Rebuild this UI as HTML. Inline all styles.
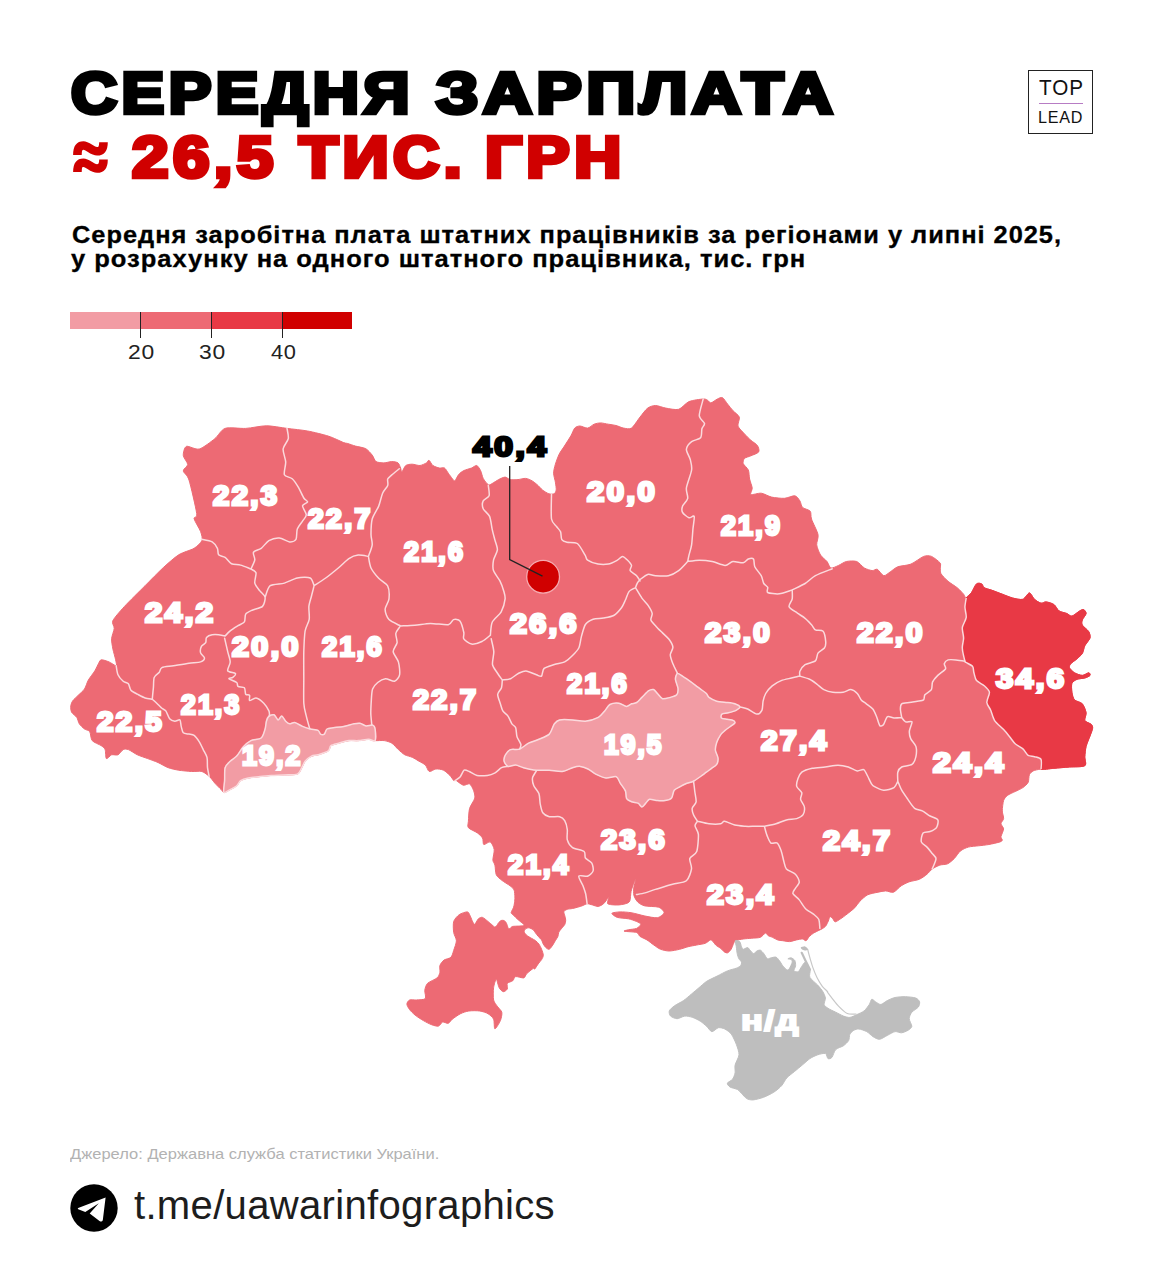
<!DOCTYPE html>
<html lang="uk"><head><meta charset="utf-8"><title>Середня зарплата</title>
<style>
*{margin:0;padding:0;box-sizing:border-box}
html,body{width:1163px;height:1280px;background:#fff;overflow:hidden}
body{position:relative;font-family:"Liberation Sans",sans-serif;color:#000}
.abs{position:absolute;white-space:nowrap}
.logo{left:1028px;top:70px;width:65px;height:64px;border:1.6px solid #222}
.logo i{position:absolute;left:9.5px;right:9.5px;top:31.5px;height:1.7px;background:#B77CC4}
.leg{top:312px;height:16.5px}
.tick{top:312px;width:1.3px;height:25.6px;background:#222}
.map{position:absolute;left:0;top:0}
</style></head><body>
<div class="abs logo"><i></i></div>
<div class="abs leg" style="left:70px;width:71px;background:#F29CA4"></div>
<div class="abs leg" style="left:141px;width:71px;background:#ED6A74"></div>
<div class="abs leg" style="left:212px;width:71px;background:#E83945"></div>
<div class="abs leg" style="left:283px;width:69.2px;background:#D00000"></div>
<div class="abs tick" style="left:140.2px"></div><div class="abs tick" style="left:211.1px"></div><div class="abs tick" style="left:282.1px"></div>
<svg class="map" width="1163" height="1280" viewBox="0 0 1163 1280">
<path d="M287.0,428.4 C292.5,429.1 302.1,430.0 307.6,431.0 C313.1,432.0 323.5,434.6 328.3,436.1 C333.1,437.6 341.1,441.6 343.7,442.6 C346.3,443.6 346.1,443.0 347.7,443.5 C349.3,444.0 353.1,445.4 355.5,446.1 C357.9,446.8 363.6,447.5 365.8,448.7 C368.0,449.9 370.8,453.4 372.2,455.1 C373.6,456.8 374.5,460.6 376.1,461.6 C377.7,462.6 381.8,462.9 383.9,462.9 C386.0,462.9 389.7,461.6 391.6,461.6 C393.5,461.6 396.8,462.0 398.0,462.9 C399.2,463.8 400.1,466.8 400.6,468.0 C401.1,469.2 401.2,472.2 401.9,471.9 C402.6,471.6 404.4,466.5 405.8,465.5 C407.2,464.5 410.3,464.2 412.2,464.2 C414.1,464.2 418.1,465.7 420.0,465.5 C421.9,465.3 425.2,463.6 426.4,462.9 C427.6,462.2 428.1,460.0 429.0,460.3 C429.9,460.6 431.5,464.5 432.9,465.5 C434.3,466.5 437.8,467.7 439.3,468.0 C440.8,468.3 443.3,467.3 444.5,468.0 C445.7,468.7 447.3,471.8 448.3,473.2 C449.3,474.6 451.3,477.4 452.2,478.4 C453.1,479.4 453.9,481.4 454.8,480.9 C455.7,480.4 457.5,475.9 458.7,474.5 C459.9,473.1 462.1,471.5 463.8,470.6 C465.5,469.7 469.9,468.7 471.6,468.0 C473.3,467.3 475.5,465.2 476.7,465.5 C477.9,465.8 479.7,468.9 480.6,470.6 C481.5,472.3 482.2,476.5 483.2,478.4 C484.2,480.3 487.1,484.1 488.3,484.8 C489.5,485.5 490.8,484.2 492.2,483.5 C493.6,482.8 496.9,480.5 498.6,479.6 C500.3,478.7 503.6,477.1 505.1,477.1 C506.6,477.1 508.5,479.3 510.2,479.6 C511.9,479.9 515.9,479.8 518.0,479.6 C520.1,479.4 523.8,478.2 525.7,478.4 C527.6,478.6 530.7,480.0 532.2,480.9 C533.7,481.8 535.9,483.6 537.3,484.8 C538.7,486.0 541.0,488.8 542.5,490.0 C544.0,491.2 547.4,493.3 548.9,493.8 C550.4,494.3 553.1,494.3 554.1,493.8 C555.1,493.3 556.0,491.5 556.2,490.0 C556.4,488.5 555.7,484.4 555.4,482.2 C555.1,480.0 553.6,475.6 553.6,473.2 C553.6,470.8 554.6,466.8 555.4,464.2 C556.2,461.6 558.1,456.3 559.3,453.9 C560.5,451.5 562.9,448.5 564.4,446.1 C565.9,443.7 569.5,438.2 570.9,435.8 C572.3,433.4 573.5,429.4 574.7,428.1 C575.9,426.8 578.2,426.0 579.9,426.0 C581.6,426.0 585.7,428.3 587.6,428.1 C589.5,427.9 592.4,424.9 594.1,424.2 C595.8,423.5 598.6,422.9 600.5,422.9 C602.4,422.9 606.2,423.9 608.3,424.2 C610.4,424.5 613.9,425.0 616.0,425.5 C618.1,426.0 621.6,427.8 623.7,428.1 C625.8,428.4 629.3,429.6 631.5,428.1 C633.7,426.6 637.8,419.8 640.0,417.1 C642.2,414.4 645.6,409.6 647.7,408.1 C649.8,406.6 653.1,405.5 655.5,405.5 C657.9,405.5 662.7,407.6 665.8,408.1 C668.9,408.6 675.6,410.2 678.7,409.3 C681.8,408.4 685.7,403.0 689.0,401.6 C692.3,400.2 700.7,399.2 703.2,399.0 C705.7,398.8 706.6,399.8 707.6,400.3 C708.6,400.8 709.6,403.1 710.9,402.9 C712.2,402.7 715.9,399.7 717.4,399.0 C718.9,398.3 721.1,397.0 722.5,397.7 C723.9,398.4 726.3,402.5 727.7,404.2 C729.1,405.9 731.4,408.9 732.9,410.6 C734.4,412.3 738.6,415.0 739.3,417.1 C740.0,419.2 737.3,423.9 738.0,426.1 C738.7,428.3 742.8,432.0 744.5,433.9 C746.2,435.8 749.2,438.8 750.9,440.3 C752.6,441.8 756.4,444.0 757.4,445.5 C758.4,447.0 759.6,450.5 758.7,451.9 C757.8,453.3 752.8,454.9 750.9,455.8 C749.0,456.7 745.5,457.4 744.5,458.4 C743.5,459.4 742.7,462.0 743.2,463.5 C743.7,465.0 747.4,467.9 748.3,470.0 C749.2,472.1 749.1,476.6 749.6,479.0 C750.1,481.4 752.0,485.9 752.2,488.0 C752.4,490.1 749.7,493.8 750.9,494.5 C752.1,495.2 758.4,492.9 761.2,493.2 C764.0,493.5 768.5,496.4 771.6,497.1 C774.7,497.8 781.4,498.5 784.5,498.3 C787.6,498.1 792.7,495.5 794.8,495.8 C796.9,496.1 798.9,499.4 799.9,500.9 C800.9,502.4 801.1,506.0 802.5,507.4 C803.9,508.8 809.0,509.7 810.2,511.2 C811.4,512.7 810.5,515.9 811.5,519.0 C812.5,522.1 817.3,531.1 818.0,534.5 C818.7,537.9 816.4,542.1 816.7,544.8 C817.0,547.5 819.2,552.9 820.6,555.1 C822.0,557.3 825.6,559.8 827.0,561.5 C828.4,563.2 829.4,567.5 830.9,568.0 C832.4,568.5 836.5,566.3 838.6,565.4 C840.7,564.5 844.0,562.0 846.4,561.5 C848.8,561.0 854.3,560.6 856.7,561.5 C859.1,562.4 862.3,566.8 864.4,568.0 C866.5,569.2 870.5,570.4 872.2,570.6 C873.9,570.8 875.8,568.6 877.3,569.3 C878.8,570.0 882.1,575.4 883.8,575.7 C885.5,576.0 888.3,573.1 890.2,571.9 C892.1,570.7 895.2,567.7 898.0,566.7 C900.8,565.7 907.5,565.5 910.9,564.1 C914.3,562.7 921.0,557.4 923.7,556.4 C926.4,555.4 929.3,555.5 931.5,556.4 C933.7,557.3 938.8,561.4 940.0,562.8 C941.2,564.2 940.3,565.7 940.4,567.1 C940.5,568.5 939.9,571.6 940.9,573.5 C941.9,575.4 945.9,579.4 948.1,581.3 C950.3,583.2 955.1,586.0 957.2,587.7 C959.3,589.4 962.4,592.8 963.6,594.2 C964.8,595.6 965.2,598.2 966.2,598.0 C967.2,597.8 969.9,594.8 971.3,592.9 C972.7,591.0 975.1,585.1 976.5,583.9 C977.9,582.7 980.7,583.4 981.7,583.9 C982.7,584.4 982.8,586.8 984.2,587.7 C985.6,588.6 989.6,589.4 992.0,590.3 C994.4,591.2 999.6,593.2 1002.3,594.2 C1005.0,595.2 1009.9,597.3 1012.6,598.0 C1015.3,598.7 1020.7,600.0 1022.9,599.3 C1025.1,598.6 1027.9,592.9 1029.4,592.9 C1030.9,592.9 1033.0,597.9 1034.5,599.3 C1036.0,600.7 1039.5,602.9 1041.0,603.2 C1042.5,603.5 1044.4,601.7 1046.1,601.9 C1047.8,602.1 1052.2,603.3 1053.9,604.5 C1055.6,605.7 1057.3,609.7 1059.0,610.9 C1060.7,612.1 1065.1,612.8 1066.8,613.5 C1068.5,614.2 1070.2,616.4 1071.9,616.1 C1073.6,615.8 1078.1,611.8 1079.7,610.9 C1081.3,610.0 1082.7,609.3 1083.6,609.6 C1084.5,609.9 1086.3,612.1 1086.1,613.5 C1085.9,614.9 1082.8,618.5 1082.3,620.0 C1081.8,621.5 1081.4,623.6 1082.3,625.1 C1083.2,626.6 1087.7,629.9 1088.7,631.6 C1089.7,633.3 1090.5,636.1 1090.0,638.0 C1089.5,639.9 1085.8,643.7 1084.8,645.8 C1083.8,647.9 1083.3,651.8 1082.3,653.5 C1081.3,655.2 1078.6,657.3 1077.1,658.7 C1075.6,660.1 1071.7,662.6 1070.7,663.8 C1069.7,665.0 1068.9,666.5 1069.4,667.7 C1069.9,668.9 1072.8,671.8 1074.5,672.8 C1076.2,673.8 1080.4,675.4 1082.3,675.4 C1084.2,675.4 1087.7,672.8 1088.7,672.8 C1089.7,672.8 1090.5,674.7 1090.0,675.4 C1089.5,676.1 1086.5,677.5 1084.8,678.0 C1083.1,678.5 1078.8,678.6 1077.1,679.3 C1075.4,680.0 1072.6,681.5 1071.9,683.2 C1071.2,684.9 1071.6,690.0 1071.9,692.2 C1072.2,694.4 1073.1,698.4 1074.5,699.9 C1075.9,701.4 1080.8,702.1 1082.3,703.8 C1083.8,705.5 1085.8,710.6 1086.1,712.8 C1086.4,715.0 1084.1,719.1 1084.8,720.6 C1085.5,722.1 1090.3,723.4 1091.3,724.4 C1092.3,725.4 1092.8,726.8 1092.6,728.3 C1092.4,729.8 1090.9,733.6 1090.0,736.0 C1089.1,738.4 1086.8,743.6 1086.1,746.4 C1085.4,749.2 1085.0,754.1 1084.8,756.7 C1084.6,759.3 1086.9,764.3 1084.8,765.7 C1082.7,767.1 1073.5,766.7 1069.4,767.0 C1065.3,767.3 1057.7,768.0 1053.9,768.3 C1050.1,768.6 1043.8,768.8 1041.0,769.1 C1038.2,769.4 1034.7,770.2 1033.2,770.9 C1031.7,771.6 1030.1,773.2 1029.4,774.7 C1028.7,776.2 1029.0,780.8 1028.1,782.5 C1027.2,784.2 1024.6,786.4 1022.9,787.6 C1021.2,788.8 1017.3,790.5 1015.2,791.5 C1013.1,792.5 1009.0,794.2 1007.5,795.4 C1006.0,796.6 1004.3,798.4 1003.6,800.5 C1002.9,802.6 1002.3,808.5 1002.3,810.9 C1002.3,813.3 1003.8,816.9 1003.6,818.6 C1003.4,820.3 1001.0,822.3 1001.0,823.7 C1001.0,825.1 1003.6,827.2 1003.6,828.9 C1003.6,830.6 1001.2,835.1 1001.0,836.6 C1000.8,838.1 1002.4,839.3 1002.3,840.0 C1002.2,840.7 1001.8,841.3 1000.0,841.9 C998.2,842.5 991.8,844.0 988.9,844.5 C986.0,845.0 981.3,845.5 978.6,845.8 C975.9,846.1 970.7,846.4 968.3,847.1 C965.9,847.8 962.4,849.4 960.5,850.9 C958.6,852.4 955.8,857.0 954.1,858.7 C952.4,860.4 949.5,862.9 947.6,863.8 C945.7,864.7 942.0,864.4 939.9,865.1 C937.8,865.8 933.9,867.8 932.2,869.0 C930.5,870.2 928.7,872.8 927.0,874.2 C925.3,875.6 921.7,878.3 919.3,879.3 C916.9,880.3 911.3,881.0 908.9,881.9 C906.5,882.8 903.3,884.4 901.2,885.8 C899.1,887.2 895.6,891.5 893.5,892.2 C891.4,892.9 887.8,890.9 885.7,890.9 C883.6,890.9 880.4,891.7 878.0,892.2 C875.6,892.7 870.1,893.6 867.7,894.8 C865.3,896.0 861.6,899.5 859.9,901.2 C858.2,902.9 856.5,906.0 854.8,907.7 C853.1,909.4 848.9,912.6 847.0,914.1 C845.1,915.6 842.2,917.8 840.6,918.8 C839.0,919.8 836.3,921.9 835.2,921.8 C834.1,921.7 833.3,919.1 832.6,918.4 C831.9,917.7 830.6,916.4 830.0,916.7 C829.4,917.0 828.9,919.7 828.3,921.0 C827.7,922.3 826.5,925.1 825.7,926.1 C824.9,927.1 823.2,928.1 822.3,928.7 C821.4,929.3 819.9,929.8 818.8,930.4 C817.7,931.0 815.0,932.2 813.7,933.0 C812.4,933.8 810.4,935.4 809.4,936.4 C808.4,937.4 806.9,940.4 806.0,940.7 C805.1,941.0 803.8,939.1 802.5,939.0 C801.2,938.9 798.2,939.6 796.5,939.9 C794.8,940.2 791.4,941.5 789.6,941.6 C787.8,941.7 784.3,940.9 782.7,940.7 C781.1,940.5 779.0,940.4 777.6,939.9 C776.2,939.4 773.7,937.9 772.4,937.3 C771.1,936.7 769.0,936.2 768.1,935.6 C767.2,935.0 766.5,932.8 765.5,933.0 C764.5,933.2 762.2,936.6 760.4,937.3 C758.6,938.0 754.1,938.0 751.8,938.2 C749.5,938.4 745.4,938.7 743.2,939.0 C741.0,939.3 736.7,940.1 735.4,940.7 C734.1,941.3 734.3,942.2 733.7,943.3 C733.1,944.4 731.9,948.0 731.1,949.3 C730.3,950.6 728.6,952.5 727.7,952.8 C726.8,953.1 725.2,952.5 724.3,951.9 C723.4,951.3 721.9,949.4 720.8,948.5 C719.7,947.6 716.7,945.9 715.7,945.0 C714.7,944.1 713.8,942.3 713.1,941.6 C712.4,940.9 711.5,939.7 710.5,939.9 C709.5,940.1 707.1,942.6 705.3,943.3 C703.5,944.0 699.0,944.5 696.7,945.0 C694.4,945.5 690.5,946.1 688.2,946.7 C685.9,947.3 682.1,948.7 679.6,949.3 C677.1,949.9 671.7,951.0 669.2,951.0 C666.7,951.0 662.7,950.1 660.6,949.3 C658.5,948.5 655.6,946.3 653.8,945.0 C652.0,943.7 648.7,941.0 646.9,939.9 C645.1,938.8 641.4,937.4 640.0,936.4 C638.6,935.4 638.7,933.2 636.6,932.5 C634.5,931.8 625.3,931.6 624.2,931.2 C623.1,930.8 626.7,930.2 628.4,929.8 C630.1,929.4 634.9,929.1 636.6,928.4 C638.3,927.7 640.8,925.2 640.8,924.3 C640.8,923.4 638.3,922.2 636.6,921.5 C634.9,920.8 631.0,919.3 628.4,918.8 C625.8,918.3 619.6,918.1 617.4,917.4 C615.2,916.7 611.5,914.0 611.9,913.3 C612.3,912.6 617.5,912.0 620.1,911.9 C622.7,911.8 627.8,912.2 631.1,912.7 C634.4,913.2 641.4,915.3 644.9,916.0 C648.4,916.7 654.7,918.1 657.3,917.7 C659.9,917.3 663.9,914.1 664.1,912.7 C664.3,911.3 661.2,908.1 658.6,907.2 C656.0,906.3 647.6,906.6 644.9,905.9 C642.2,905.2 639.5,903.7 638.0,902.3 C636.5,900.9 634.4,897.4 633.9,895.4 C633.4,893.4 633.6,889.3 633.9,887.1 C634.2,884.9 636.1,879.4 636.1,878.9 C636.1,878.4 634.6,881.3 633.9,883.0 C633.2,884.7 631.6,888.9 631.1,891.3 C630.6,893.7 630.5,899.2 629.8,900.9 C629.1,902.6 627.3,903.2 625.6,903.7 C623.9,904.2 619.8,905.0 617.4,905.0 C615.0,905.0 608.8,904.8 607.7,903.7 C606.6,902.6 609.6,896.8 609.1,896.8 C608.6,896.8 605.1,902.4 603.6,903.7 C602.1,905.0 599.6,906.2 598.1,906.4 C596.6,906.6 594.1,905.4 592.6,905.0 C591.1,904.6 588.4,903.6 587.1,903.7 C585.8,903.8 584.2,905.0 582.9,905.5 C581.6,906.0 579.1,906.8 577.7,907.2 C576.3,907.6 573.9,908.2 572.5,908.5 C571.1,908.8 568.5,908.9 567.4,909.3 C566.3,909.7 564.2,910.6 563.9,911.5 C563.6,912.4 564.6,914.7 564.8,915.8 C565.0,916.9 565.7,919.0 565.7,920.1 C565.7,921.2 565.4,923.3 564.8,924.4 C564.2,925.5 562.2,927.7 561.4,928.7 C560.6,929.7 559.3,931.1 558.8,932.1 C558.3,933.1 558.4,935.3 557.9,936.4 C557.4,937.5 556.0,939.6 555.3,940.7 C554.6,941.8 553.5,944.0 552.8,945.0 C552.1,946.0 550.8,947.9 550.2,948.5 C549.6,949.1 549.1,949.4 548.5,949.3 C547.9,949.2 546.6,948.3 545.9,947.6 C545.2,946.9 543.9,945.2 543.3,944.2 C542.7,943.2 542.3,940.9 541.6,939.9 C540.9,938.9 539.0,937.3 538.2,936.4 C537.4,935.5 536.3,933.9 535.6,933.0 C534.9,932.1 533.9,930.3 533.0,929.6 C532.1,928.9 529.7,927.9 528.7,927.8 C527.7,927.7 525.9,928.5 525.3,929.1 C524.7,929.7 524.0,931.2 524.2,932.1 C524.4,933.0 526.1,934.8 527.0,935.6 C527.9,936.4 530.2,937.5 531.3,938.2 C532.4,938.9 534.6,939.9 535.6,940.7 C536.6,941.5 538.2,943.1 539.0,944.2 C539.8,945.3 541.0,947.8 541.6,949.3 C542.2,950.8 543.3,953.9 543.3,955.3 C543.3,956.7 542.3,958.5 541.6,959.6 C540.9,960.7 539.1,962.6 538.2,963.9 C537.3,965.2 535.3,968.5 534.7,969.1 C534.1,969.7 534.5,967.7 533.4,968.3 C532.3,968.9 527.9,972.5 526.6,973.8 C525.3,975.1 525.3,977.5 523.8,977.9 C522.3,978.3 517.1,976.2 515.6,976.6 C514.1,977.0 513.9,979.8 512.8,980.7 C511.7,981.6 508.0,982.3 507.3,983.4 C506.6,984.5 507.8,987.9 507.3,989.0 C506.8,990.1 504.3,991.9 503.2,991.7 C502.1,991.5 500.0,989.3 499.1,987.6 C498.2,985.9 497.0,979.3 496.3,979.3 C495.6,979.3 494.0,984.8 493.6,987.6 C493.2,990.4 493.1,997.4 493.6,1000.0 C494.1,1002.6 496.6,1005.2 497.7,1006.8 C498.8,1008.4 501.4,1010.5 501.8,1012.3 C502.2,1014.1 501.3,1018.4 500.4,1020.6 C499.5,1022.8 495.8,1029.0 494.9,1028.8 C494.0,1028.6 494.5,1021.2 493.6,1019.2 C492.7,1017.2 489.8,1014.8 488.0,1013.7 C486.2,1012.6 482.4,1011.4 479.8,1011.0 C477.2,1010.6 471.4,1010.6 468.8,1011.0 C466.2,1011.4 462.7,1012.6 460.5,1013.7 C458.3,1014.8 453.9,1017.9 452.3,1019.2 C450.7,1020.5 449.5,1022.9 448.2,1023.3 C446.9,1023.7 443.9,1021.6 442.6,1022.0 C441.3,1022.4 440.0,1025.7 438.5,1026.1 C437.0,1026.5 433.6,1025.4 431.6,1024.7 C429.6,1024.0 425.6,1021.9 423.4,1020.6 C421.2,1019.3 416.9,1016.6 415.1,1015.1 C413.3,1013.6 410.7,1011.1 409.6,1009.6 C408.5,1008.1 406.9,1005.4 406.9,1004.1 C406.9,1002.8 408.3,1000.5 409.6,1000.0 C410.9,999.5 414.4,1000.2 416.5,1000.0 C418.6,999.8 424.2,999.9 425.3,998.6 C426.4,997.3 424.5,992.3 424.8,990.3 C425.1,988.3 425.9,985.1 427.5,983.4 C429.1,981.7 435.4,979.4 437.1,977.9 C438.8,976.4 439.5,974.0 439.9,972.4 C440.3,970.8 439.4,967.2 439.9,965.6 C440.4,964.0 442.5,961.2 444.0,960.1 C445.5,959.0 449.6,958.6 450.9,957.3 C452.2,956.0 453.0,952.6 453.7,950.4 C454.4,948.2 456.4,943.2 456.4,940.8 C456.4,938.4 454.1,935.1 453.7,932.5 C453.3,929.9 453.0,923.9 453.7,921.5 C454.4,919.1 457.4,916.0 459.2,914.7 C461.0,913.4 465.9,911.7 467.4,911.9 C468.9,912.1 469.3,914.3 470.2,916.0 C471.1,917.7 473.2,923.9 474.3,924.3 C475.4,924.7 477.3,919.7 478.4,918.8 C479.5,917.9 481.2,917.0 482.5,917.4 C483.8,917.8 486.7,920.4 488.0,921.5 C489.3,922.6 491.8,924.6 492.6,925.3 C493.4,926.0 493.8,926.9 494.3,927.0 C494.8,927.1 495.8,926.7 496.4,926.1 C497.0,925.5 498.0,923.4 498.6,922.7 C499.2,922.0 500.5,920.8 501.2,920.5 C501.9,920.2 503.2,920.3 503.8,920.5 C504.4,920.7 505.4,921.6 505.9,922.2 C506.4,922.8 506.9,924.4 507.2,925.3 C507.5,926.2 508.1,928.3 508.5,928.7 C508.9,929.1 509.7,928.6 510.2,928.3 C510.7,928.0 511.3,926.8 512.4,926.5 C513.5,926.2 517.0,926.2 518.4,926.1 C519.8,926.0 522.4,925.9 523.1,925.7 C523.8,925.5 524.2,925.2 524.0,924.8 C523.8,924.4 522.7,923.4 521.8,922.7 C520.9,922.0 518.5,920.1 517.5,919.2 C516.5,918.3 514.9,916.6 514.1,915.8 C513.3,915.0 511.6,913.8 511.3,913.2 C511.0,912.6 511.2,912.3 511.5,911.5 C511.8,910.7 513.2,908.3 513.6,907.2 C514.0,906.1 514.3,904.3 514.5,902.9 C514.7,901.5 515.0,898.6 514.9,896.9 C514.8,895.2 514.7,891.5 514.1,890.0 C513.5,888.5 511.7,887.1 510.1,885.8 C508.5,884.5 503.6,881.8 501.8,880.3 C500.0,878.8 497.2,876.8 496.3,874.8 C495.4,872.8 495.4,867.1 494.9,865.1 C494.4,863.1 493.0,862.1 492.9,860.0 C492.8,857.9 494.5,852.0 494.2,849.6 C493.9,847.2 491.7,842.6 490.3,841.9 C488.9,841.2 484.8,845.0 483.8,844.5 C482.8,844.0 483.4,839.5 482.5,838.0 C481.6,836.5 479.3,834.3 477.4,832.9 C475.5,831.5 469.6,829.2 468.4,827.7 C467.2,826.2 468.2,823.9 468.4,821.3 C468.6,818.7 468.7,811.5 469.6,808.4 C470.5,805.3 474.3,800.5 474.8,798.1 C475.3,795.7 474.2,792.2 473.5,790.3 C472.8,788.4 471.0,784.6 469.6,783.9 C468.2,783.2 465.1,785.7 463.2,785.2 C461.3,784.7 456.8,780.6 455.5,780.0 C454.2,779.4 454.5,781.2 453.8,780.6 C453.1,780.0 451.3,776.8 449.9,775.4 C448.5,774.0 445.4,771.1 443.5,770.2 C441.6,769.3 437.7,768.8 435.8,769.0 C433.9,769.2 430.7,772.0 429.3,771.5 C427.9,771.0 426.8,766.5 425.4,765.1 C424.0,763.7 420.7,762.2 419.0,761.2 C417.3,760.2 414.4,758.3 412.5,757.4 C410.6,756.5 406.7,755.8 404.8,754.8 C402.9,753.8 400.1,751.1 398.4,749.6 C396.7,748.1 393.8,744.4 391.9,743.2 C390.0,742.0 386.4,740.9 384.2,740.6 C382.0,740.3 377.2,740.8 375.1,740.6 C373.0,740.4 370.9,739.3 368.7,739.3 C366.5,739.3 361.0,740.4 358.4,740.6 C355.8,740.8 351.5,740.3 348.9,740.6 C346.3,740.9 341.0,742.5 338.6,743.2 C336.2,743.9 332.3,744.7 330.9,745.7 C329.5,746.7 330.0,749.7 328.3,750.9 C326.6,752.1 320.2,754.1 318.0,754.8 C315.8,755.5 313.2,755.2 311.5,756.1 C309.8,757.0 306.5,759.5 305.1,761.2 C303.7,762.9 302.2,767.3 301.2,769.0 C300.2,770.7 299.5,773.3 297.3,774.1 C295.1,774.9 287.8,774.7 284.4,774.9 C281.0,775.1 274.9,775.2 271.5,775.4 C268.1,775.6 261.7,776.4 258.6,776.7 C255.5,777.0 250.7,777.5 248.3,778.0 C245.9,778.5 242.1,779.6 240.6,780.6 C239.1,781.6 238.1,784.5 236.7,785.7 C235.3,786.9 231.9,788.7 230.2,789.6 C228.5,790.5 225.0,792.2 223.8,792.2 C222.6,792.2 222.4,790.8 221.2,789.6 C220.0,788.4 216.3,784.8 214.8,783.1 C213.3,781.4 211.3,778.2 209.6,776.7 C207.9,775.2 204.3,772.2 201.9,771.5 C199.5,770.8 194.7,771.7 191.6,771.5 C188.5,771.3 181.8,770.7 178.7,770.2 C175.6,769.7 171.1,768.7 168.3,767.7 C165.5,766.7 160.7,763.7 158.0,762.5 C155.3,761.3 150.4,759.6 147.7,758.6 C145.0,757.6 140.0,756.0 137.4,754.8 C134.8,753.6 130.3,750.3 128.4,749.6 C126.5,748.9 124.6,748.9 123.2,749.6 C121.8,750.3 119.5,754.1 118.0,754.8 C116.5,755.5 113.1,754.3 111.6,754.8 C110.1,755.3 107.3,759.3 106.4,758.6 C105.5,757.9 105.8,751.3 105.1,749.6 C104.4,747.9 103.0,746.9 101.3,745.7 C99.6,744.5 93.7,742.5 92.2,740.6 C90.7,738.7 90.7,733.1 89.7,731.6 C88.7,730.1 85.9,730.0 84.5,729.0 C83.1,728.0 80.3,725.3 79.3,723.8 C78.3,722.3 77.8,718.9 76.8,717.4 C75.8,715.9 72.4,713.7 71.6,712.2 C70.8,710.7 70.6,707.3 70.8,705.8 C71.0,704.3 71.9,702.0 72.9,700.6 C73.9,699.2 76.6,696.9 78.1,695.4 C79.6,693.9 83.1,691.1 84.5,689.0 C85.9,686.9 87.0,682.4 88.4,680.0 C89.8,677.6 93.4,673.1 94.8,670.9 C96.2,668.7 97.8,664.7 98.7,663.2 C99.6,661.7 99.9,660.0 101.3,659.8 C102.7,659.6 107.0,661.1 109.0,661.9 C111.0,662.7 115.3,666.1 116.2,665.8 C117.1,665.5 115.9,661.5 115.5,659.3 C115.1,657.1 113.4,651.7 112.9,649.0 C112.4,646.3 111.4,641.4 111.6,638.7 C111.8,636.0 114.0,630.8 114.2,628.4 C114.4,626.0 111.5,623.5 112.9,620.6 C114.3,617.7 120.2,611.1 124.5,606.4 C128.8,601.7 139.9,590.9 145.1,585.7 C150.3,580.5 158.7,571.8 163.2,567.7 C167.7,563.6 174.6,557.4 178.7,554.8 C182.8,552.2 191.0,550.2 194.1,548.3 C197.2,546.4 201.0,542.8 201.9,540.6 C202.8,538.4 201.6,534.5 200.6,531.6 C199.6,528.7 194.6,521.1 194.1,518.7 C193.6,516.3 197.4,518.7 196.7,513.5 C196.0,508.3 190.8,485.7 189.0,480.0 C187.2,474.3 183.5,473.0 183.3,470.9 C183.1,468.8 187.7,466.6 187.7,464.5 C187.7,462.4 183.5,457.9 183.3,455.5 C183.1,453.1 184.3,447.3 186.4,446.4 C188.5,445.5 195.5,450.0 199.3,449.0 C203.1,448.0 211.4,441.4 214.8,438.7 C218.2,436.0 221.0,429.8 225.1,428.4 C229.2,427.0 240.2,428.7 245.7,428.4 C251.2,428.1 260.9,425.8 266.4,425.8 C271.9,425.8 281.5,427.7 287.0,428.4Z" fill="#ED6A74" stroke="#ED6A74" stroke-width="1" stroke-linejoin="round"/>
<path d="M966.2,598.0 C967.1,596.1 969.9,594.8 971.3,592.9 C972.7,591.0 975.1,585.1 976.5,583.9 C977.9,582.7 980.7,583.4 981.7,583.9 C982.7,584.4 982.8,586.8 984.2,587.7 C985.6,588.6 989.6,589.4 992.0,590.3 C994.4,591.2 999.6,593.2 1002.3,594.2 C1005.0,595.2 1009.9,597.3 1012.6,598.0 C1015.3,598.7 1020.7,600.0 1022.9,599.3 C1025.1,598.6 1027.9,592.9 1029.4,592.9 C1030.9,592.9 1033.0,597.9 1034.5,599.3 C1036.0,600.7 1039.5,602.9 1041.0,603.2 C1042.5,603.5 1044.4,601.7 1046.1,601.9 C1047.8,602.1 1052.2,603.3 1053.9,604.5 C1055.6,605.7 1057.3,609.7 1059.0,610.9 C1060.7,612.1 1065.1,612.8 1066.8,613.5 C1068.5,614.2 1070.2,616.4 1071.9,616.1 C1073.6,615.8 1078.1,611.8 1079.7,610.9 C1081.3,610.0 1082.7,609.3 1083.6,609.6 C1084.5,609.9 1086.3,612.1 1086.1,613.5 C1085.9,614.9 1082.8,618.5 1082.3,620.0 C1081.8,621.5 1081.4,623.6 1082.3,625.1 C1083.2,626.6 1087.7,629.9 1088.7,631.6 C1089.7,633.3 1090.5,636.1 1090.0,638.0 C1089.5,639.9 1085.8,643.7 1084.8,645.8 C1083.8,647.9 1083.3,651.8 1082.3,653.5 C1081.3,655.2 1078.6,657.3 1077.1,658.7 C1075.6,660.1 1071.7,662.6 1070.7,663.8 C1069.7,665.0 1068.9,666.5 1069.4,667.7 C1069.9,668.9 1072.8,671.8 1074.5,672.8 C1076.2,673.8 1080.4,675.4 1082.3,675.4 C1084.2,675.4 1087.7,672.8 1088.7,672.8 C1089.7,672.8 1090.5,674.7 1090.0,675.4 C1089.5,676.1 1086.5,677.5 1084.8,678.0 C1083.1,678.5 1078.8,678.6 1077.1,679.3 C1075.4,680.0 1072.6,681.5 1071.9,683.2 C1071.2,684.9 1071.6,690.0 1071.9,692.2 C1072.2,694.4 1073.1,698.4 1074.5,699.9 C1075.9,701.4 1080.8,702.1 1082.3,703.8 C1083.8,705.5 1085.8,710.6 1086.1,712.8 C1086.4,715.0 1084.1,719.1 1084.8,720.6 C1085.5,722.1 1090.3,723.4 1091.3,724.4 C1092.3,725.4 1092.8,726.8 1092.6,728.3 C1092.4,729.8 1090.9,733.6 1090.0,736.0 C1089.1,738.4 1086.8,743.6 1086.1,746.4 C1085.4,749.2 1085.0,754.1 1084.8,756.7 C1084.6,759.3 1086.9,764.3 1084.8,765.7 C1082.7,767.1 1073.5,766.7 1069.4,767.0 C1065.3,767.3 1057.7,768.0 1053.9,768.3 C1050.1,768.6 1042.7,770.3 1041.0,769.1 C1039.3,767.9 1041.9,761.0 1041.0,759.3 C1040.1,757.6 1036.2,757.2 1034.5,756.7 C1032.8,756.2 1029.6,756.4 1028.1,755.4 C1026.6,754.4 1024.6,750.4 1022.9,748.9 C1021.2,747.4 1016.9,745.3 1015.2,743.8 C1013.5,742.3 1011.5,739.2 1010.0,737.3 C1008.5,735.4 1005.7,731.8 1003.6,729.6 C1001.5,727.4 996.3,723.2 994.6,720.6 C992.9,718.0 991.7,712.6 990.7,710.2 C989.7,707.8 987.0,704.9 986.8,702.5 C986.6,700.1 989.7,694.4 989.4,692.2 C989.1,690.0 985.9,687.2 984.2,685.7 C982.5,684.2 977.9,682.3 976.5,680.6 C975.1,678.9 974.4,674.7 973.9,672.8 C973.4,670.9 973.6,667.8 972.6,666.4 C971.6,665.0 967.2,663.2 966.2,662.5 C965.2,661.8 965.4,663.1 964.9,661.2 C964.4,659.3 962.5,651.4 962.3,648.3 C962.1,645.2 963.6,640.7 963.6,638.0 C963.6,635.3 962.0,630.4 962.3,627.7 C962.6,625.0 965.9,620.1 966.2,617.4 C966.5,614.7 964.9,609.7 964.9,607.1 C964.9,604.5 965.3,599.9 966.2,598.0Z" fill="#E83945" stroke="#E83945" stroke-width="1" stroke-linejoin="round"/>
<path d="M223.8,792.2 C223.1,791.0 224.4,783.9 224.6,780.6 C224.8,777.3 224.4,770.3 225.1,767.7 C225.8,765.1 228.7,762.7 230.2,761.2 C231.7,759.7 235.0,758.0 236.7,756.1 C238.4,754.2 241.2,749.1 243.1,747.0 C245.0,744.9 248.5,741.8 250.9,740.6 C253.3,739.4 259.3,739.5 261.2,738.0 C263.1,736.5 264.4,731.2 265.1,729.0 C265.8,726.8 265.9,722.9 266.4,721.2 C266.9,719.5 267.9,717.0 268.9,716.1 C269.9,715.2 272.9,714.3 274.1,714.8 C275.3,715.3 277.0,719.7 278.0,719.9 C279.0,720.1 280.8,715.9 281.8,716.1 C282.8,716.3 284.7,720.2 285.7,721.2 C286.7,722.2 288.4,723.6 289.6,723.8 C290.8,724.0 293.0,722.2 294.7,722.5 C296.4,722.8 300.4,725.5 302.5,726.4 C304.6,727.3 308.1,728.5 310.2,729.0 C312.3,729.5 316.6,729.6 318.0,730.3 C319.4,731.0 319.6,733.6 320.5,734.1 C321.4,734.6 323.5,734.8 324.4,734.1 C325.3,733.4 325.8,729.9 327.0,729.0 C328.2,728.1 331.2,728.0 333.4,727.7 C335.6,727.4 340.9,726.9 343.7,726.4 C346.5,725.9 351.9,724.2 354.1,723.8 C356.3,723.4 358.4,723.0 360.0,723.3 C361.6,723.6 364.4,725.7 366.1,725.9 C367.8,726.1 371.4,724.7 372.6,725.1 C373.8,725.5 374.8,726.9 375.1,729.0 C375.4,731.1 376.0,739.2 375.1,740.6 C374.2,742.0 370.9,739.3 368.7,739.3 C366.5,739.3 361.0,740.4 358.4,740.6 C355.8,740.8 351.5,740.3 348.9,740.6 C346.3,740.9 341.0,742.5 338.6,743.2 C336.2,743.9 332.3,744.7 330.9,745.7 C329.5,746.7 330.0,749.7 328.3,750.9 C326.6,752.1 320.2,754.1 318.0,754.8 C315.8,755.5 313.2,755.2 311.5,756.1 C309.8,757.0 306.5,759.5 305.1,761.2 C303.7,762.9 302.2,767.3 301.2,769.0 C300.2,770.7 299.5,773.3 297.3,774.1 C295.1,774.9 287.8,774.7 284.4,774.9 C281.0,775.1 274.9,775.2 271.5,775.4 C268.1,775.6 261.7,776.4 258.6,776.7 C255.5,777.0 250.7,777.5 248.3,778.0 C245.9,778.5 242.1,779.6 240.6,780.6 C239.1,781.6 238.1,784.5 236.7,785.7 C235.3,786.9 231.9,788.7 230.2,789.6 C228.5,790.5 224.5,793.4 223.8,792.2Z" fill="#F29CA4" stroke="#F29CA4" stroke-width="1" stroke-linejoin="round"/>
<path d="M519.6,749.1 C522.0,748.2 526.0,744.5 528.6,743.2 C531.2,741.9 536.1,740.5 538.9,739.3 C541.7,738.1 547.2,736.2 549.3,734.1 C551.4,732.0 553.0,725.7 554.4,723.8 C555.8,721.9 557.2,720.4 559.6,719.9 C562.0,719.4 569.1,719.7 572.5,719.9 C575.9,720.1 582.0,721.5 585.4,721.2 C588.8,720.9 595.7,718.8 598.3,717.4 C600.9,716.0 603.2,712.6 604.7,710.9 C606.2,709.2 608.0,705.5 609.9,704.5 C611.8,703.5 616.7,702.9 618.9,703.2 C621.1,703.5 624.7,706.3 626.4,706.4 C628.1,706.5 630.2,704.3 631.6,703.8 C633.0,703.3 635.3,703.4 636.7,702.5 C638.1,701.6 640.3,698.9 641.9,697.4 C643.5,695.9 646.9,691.9 648.4,690.9 C649.9,689.9 652.3,689.3 653.5,689.6 C654.7,689.9 656.2,692.3 657.4,693.5 C658.6,694.7 660.8,698.2 662.5,698.7 C664.2,699.2 668.4,697.9 670.3,697.4 C672.2,696.9 675.7,696.0 676.7,694.8 C677.7,693.6 678.2,690.4 678.0,688.3 C677.8,686.2 675.5,681.3 675.4,679.3 C675.3,677.3 676.5,673.7 677.5,673.4 C678.5,673.1 681.4,675.6 683.2,676.7 C685.0,677.8 689.2,680.7 690.9,681.9 C692.6,683.1 694.7,684.8 696.1,685.8 C697.5,686.8 699.8,688.6 701.2,689.6 C702.6,690.6 705.4,692.5 706.4,693.5 C707.4,694.5 707.6,696.4 709.0,697.4 C710.4,698.4 714.3,700.5 716.7,701.2 C719.1,701.9 724.6,702.2 727.0,702.5 C729.4,702.8 733.1,703.2 734.8,703.8 C736.5,704.4 739.7,706.0 739.9,706.9 C740.1,707.8 737.6,709.5 736.1,710.3 C734.6,711.1 730.2,712.3 728.3,712.8 C726.4,713.3 722.8,713.4 721.9,714.1 C721.0,714.8 720.7,717.3 721.4,718.0 C722.1,718.7 725.4,719.0 727.0,719.3 C728.6,719.6 732.5,720.1 733.5,720.6 C734.5,721.1 735.3,722.3 734.8,723.2 C734.3,724.1 731.0,726.0 729.6,727.0 C728.2,728.0 725.7,729.9 724.5,730.9 C723.3,731.9 721.6,733.3 720.6,734.8 C719.6,736.3 717.4,740.4 716.7,742.5 C716.0,744.6 715.2,748.1 715.4,750.2 C715.6,752.3 717.8,756.1 718.0,758.0 C718.2,759.9 717.6,763.0 716.7,764.4 C715.8,765.8 713.0,767.3 711.6,768.3 C710.2,769.3 707.8,771.2 706.4,772.2 C705.0,773.2 702.9,774.8 701.2,776.0 C699.5,777.2 695.6,780.2 693.5,781.2 C691.4,782.2 687.5,783.1 685.8,783.8 C684.1,784.5 682.1,785.5 680.6,786.4 C679.1,787.3 675.4,788.7 674.2,790.2 C673.0,791.7 672.8,796.6 671.6,798.0 C670.4,799.4 667.0,800.3 665.1,800.6 C663.2,800.9 659.5,800.8 657.4,800.6 C655.3,800.4 651.1,799.0 649.6,799.3 C648.1,799.6 646.8,802.1 645.8,803.1 C644.8,804.1 642.9,807.0 641.9,807.0 C640.9,807.0 639.4,803.8 638.0,803.1 C636.6,802.4 633.1,802.4 631.6,801.8 C630.1,801.2 627.4,800.1 626.6,798.6 C625.8,797.1 626.3,793.0 625.4,790.9 C624.5,788.8 621.4,785.0 620.2,783.1 C619.0,781.2 618.2,777.4 616.3,776.7 C614.4,776.0 608.7,778.3 606.0,778.0 C603.3,777.7 598.1,775.3 595.7,774.1 C593.3,772.9 590.1,770.0 588.0,769.0 C585.9,768.0 582.3,766.6 580.2,766.4 C578.1,766.2 574.9,767.0 572.5,767.7 C570.1,768.4 565.3,771.2 562.2,771.5 C559.1,771.8 552.7,770.4 549.3,770.2 C545.9,770.0 539.8,770.5 536.4,770.2 C533.0,769.9 526.3,768.4 523.5,767.7 C520.7,767.0 517.8,765.3 515.7,765.1 C513.6,764.9 509.5,766.9 508.0,766.4 C506.5,765.9 504.4,762.7 504.1,761.2 C503.8,759.7 504.5,756.3 505.4,754.8 C506.3,753.3 508.7,750.4 510.6,749.6 C512.5,748.8 517.2,750.0 519.6,749.1Z" fill="#F29CA4" stroke="#F29CA4" stroke-width="1" stroke-linejoin="round"/>
<path d="M735.4,940.7 C735.9,940.0 738.9,940.8 739.7,941.6 C740.5,942.4 741.0,945.7 741.5,946.7 C742.0,947.7 742.4,949.2 743.2,949.3 C744.0,949.4 746.6,947.5 747.5,947.6 C748.4,947.7 749.3,949.4 750.1,950.2 C750.9,951.0 752.6,953.5 753.5,953.6 C754.4,953.7 756.0,951.5 756.9,951.0 C757.8,950.5 759.5,949.9 760.4,950.2 C761.3,950.5 762.9,952.5 763.8,953.6 C764.7,954.7 766.4,958.2 767.3,958.8 C768.2,959.4 769.6,958.1 770.7,957.9 C771.8,957.7 774.8,956.8 775.9,957.1 C777.0,957.4 778.4,959.4 779.3,960.5 C780.2,961.6 781.7,964.4 782.7,965.7 C783.7,967.0 786.1,969.7 787.0,970.0 C787.9,970.3 788.9,969.2 789.6,968.2 C790.3,967.2 792.0,963.3 792.2,962.2 C792.4,961.1 791.9,960.1 791.3,959.6 C790.7,959.1 787.9,959.0 787.9,958.8 C787.9,958.6 790.4,957.7 791.3,957.9 C792.2,958.1 794.2,959.5 794.8,960.5 C795.4,961.5 795.7,964.3 795.6,965.7 C795.5,967.1 793.6,970.0 793.9,970.8 C794.2,971.6 797.2,972.3 798.2,971.7 C799.2,971.1 800.8,967.8 801.7,966.5 C802.6,965.2 804.3,962.3 805.1,962.2 C805.9,962.1 807.0,964.7 807.7,965.7 C808.4,966.7 809.9,968.4 810.2,970.0 C810.5,971.6 808.9,975.4 809.9,977.4 C810.9,979.4 816.0,983.2 817.7,985.1 C819.4,987.0 821.8,989.9 822.8,991.6 C823.8,993.3 825.2,996.3 825.4,998.0 C825.6,999.7 823.8,1003.1 824.1,1004.5 C824.4,1005.9 826.5,1007.3 828.0,1008.3 C829.5,1009.3 833.6,1011.2 835.7,1012.2 C837.8,1013.2 841.6,1015.4 843.5,1016.1 C845.4,1016.8 848.2,1017.6 849.9,1017.4 C851.6,1017.2 854.5,1015.7 856.4,1014.8 C858.3,1013.9 862.4,1012.3 864.1,1010.9 C865.8,1009.5 868.3,1006.0 869.3,1004.5 C870.3,1003.0 870.9,999.6 871.8,999.3 C872.7,999.0 874.5,1001.2 875.7,1001.9 C876.9,1002.6 879.4,1004.7 880.9,1004.5 C882.4,1004.3 885.4,1001.5 887.3,1000.6 C889.2,999.7 892.7,998.0 895.1,997.5 C897.5,997.0 902.7,996.6 905.4,996.7 C908.1,996.8 913.8,997.3 915.7,998.0 C917.6,998.7 919.3,1000.7 919.6,1001.9 C919.9,1003.1 919.3,1005.7 918.3,1007.1 C917.3,1008.5 913.0,1010.7 911.8,1012.2 C910.6,1013.7 909.2,1016.8 909.2,1018.7 C909.2,1020.6 912.0,1024.9 911.8,1026.4 C911.6,1027.9 909.4,1029.4 908.0,1030.3 C906.6,1031.2 903.2,1032.6 901.5,1032.8 C899.8,1033.0 897.0,1031.3 895.1,1031.6 C893.2,1031.9 889.4,1034.4 887.3,1035.4 C885.2,1036.4 881.5,1039.1 879.6,1039.3 C877.7,1039.5 874.8,1037.7 873.1,1036.7 C871.4,1035.7 868.6,1032.6 866.7,1031.6 C864.8,1030.6 860.6,1029.2 858.9,1029.0 C857.2,1028.8 855.0,1029.6 853.8,1030.3 C852.6,1031.0 850.6,1032.7 849.9,1034.1 C849.2,1035.5 849.5,1039.1 848.6,1040.6 C847.7,1042.1 845.2,1044.5 843.5,1045.7 C841.8,1046.9 837.2,1048.0 835.7,1049.6 C834.2,1051.2 832.9,1056.2 831.9,1057.4 C830.9,1058.6 828.9,1059.1 828.0,1058.6 C827.1,1058.1 826.8,1054.0 825.4,1053.5 C824.0,1053.0 819.8,1054.1 817.7,1054.8 C815.6,1055.5 812.0,1057.2 809.9,1058.6 C807.8,1060.0 804.3,1063.4 802.2,1065.1 C800.1,1066.8 796.6,1069.8 794.5,1071.5 C792.4,1073.2 788.4,1076.1 786.7,1078.0 C785.0,1079.9 783.3,1083.8 781.6,1085.7 C779.9,1087.6 776.2,1090.7 773.8,1092.2 C771.4,1093.7 766.2,1096.3 763.5,1097.3 C760.8,1098.3 755.4,1099.7 753.2,1099.9 C751.0,1100.1 748.2,1099.5 746.7,1098.6 C745.2,1097.7 742.8,1094.7 741.6,1093.5 C740.4,1092.3 739.2,1090.5 737.7,1089.6 C736.2,1088.7 731.4,1087.9 730.0,1087.0 C728.6,1086.1 727.1,1084.1 727.4,1083.1 C727.7,1082.1 731.5,1080.7 732.5,1079.3 C733.5,1077.9 734.8,1074.7 735.1,1072.8 C735.4,1070.9 734.6,1067.5 735.1,1065.1 C735.6,1062.7 738.8,1057.5 739.0,1054.8 C739.2,1052.1 737.4,1047.3 736.4,1044.5 C735.4,1041.7 732.8,1036.2 731.3,1034.1 C729.8,1032.0 726.5,1029.9 724.8,1029.0 C723.1,1028.1 720.1,1027.4 718.4,1027.7 C716.7,1028.0 713.5,1031.8 711.9,1031.6 C710.3,1031.4 708.2,1027.8 706.7,1026.4 C705.2,1025.0 702.2,1022.4 700.3,1021.2 C698.4,1020.0 694.7,1018.1 692.6,1017.4 C690.5,1016.7 686.9,1015.9 684.8,1016.1 C682.7,1016.3 679.0,1018.7 677.1,1018.7 C675.2,1018.7 671.6,1017.1 670.6,1016.1 C669.6,1015.1 668.8,1012.3 669.3,1010.9 C669.8,1009.5 672.6,1007.2 674.5,1005.8 C676.4,1004.4 681.3,1002.1 683.5,1000.6 C685.7,999.1 689.2,995.9 691.3,994.2 C693.4,992.5 696.9,989.4 699.0,987.7 C701.1,986.0 704.3,982.8 706.7,981.3 C709.1,979.8 714.3,977.5 717.1,976.1 C719.9,974.7 724.8,972.0 727.4,970.9 C730.0,969.8 734.5,968.9 736.3,968.2 C738.1,967.5 739.9,966.5 740.6,965.7 C741.3,964.9 741.7,963.1 741.5,962.2 C741.3,961.3 739.5,959.9 738.9,958.8 C738.3,957.7 737.5,955.2 737.2,953.6 C736.9,952.0 736.5,948.4 736.3,946.7 C736.1,945.0 734.9,941.4 735.4,940.7Z" fill="#BEBEBE" stroke="#BEBEBE" stroke-width="1" stroke-linejoin="round"/>
<path d="M807.7,949.3 C808.0,950.6 809.5,956.4 810.2,958.8 C810.9,961.2 811.9,964.9 812.8,967.4 C813.7,969.9 815.8,975.2 817.1,977.7 C818.4,980.2 820.9,984.5 822.3,986.3 C823.7,988.1 826.6,990.6 827.4,991.5 C828.2,992.4 826.5,991.0 828.0,992.9 C829.5,994.8 835.7,1003.1 838.3,1005.8 C840.9,1008.5 844.9,1012.4 847.3,1013.5 C849.7,1014.6 855.2,1013.9 856.4,1014.0" fill="none" stroke="#c8c8c8" stroke-width="1.2"/>
<path d="M800.8,947.6 C801.1,947.1 804.1,946.2 805.1,946.4 C806.1,946.6 808.1,948.8 808.2,949.3 C808.3,949.8 806.8,950.4 806.0,950.5 C805.2,950.6 803.2,950.2 802.5,949.8 C801.8,949.4 800.5,948.1 800.8,947.6Z" fill="#BEBEBE"/>
<path d="M801.7,952.8 C802.2,953.8 804.3,958.3 805.4,960.5 C806.5,962.7 809.3,968.2 809.9,969.4" fill="none" stroke="#BEBEBE" stroke-width="2.2" stroke-linecap="round"/>
<path d="M287.0,428.4 C287.2,429.8 288.8,436.0 288.3,438.7 C287.8,441.4 283.4,445.9 283.1,449.0 C282.8,452.1 285.5,458.5 285.7,461.9 C285.9,465.3 283.5,472.6 284.4,474.8 C285.3,477.0 290.3,477.0 292.2,478.7 C294.1,480.4 297.1,485.1 298.6,487.7 C300.1,490.3 302.6,496.1 303.8,498.0 C305.0,499.9 307.8,500.9 307.6,501.9 C307.4,502.9 302.7,504.1 302.5,505.8 C302.3,507.5 306.3,512.7 306.3,514.8 C306.3,516.9 303.7,519.3 302.5,521.2 C301.3,523.1 298.2,526.6 297.3,529.0 C296.4,531.4 297.0,537.6 296.0,539.3 C295.0,541.0 291.8,542.1 289.6,541.9 C287.4,541.7 282.1,538.2 279.3,538.0 C276.5,537.8 271.3,539.2 268.9,540.6 C266.5,542.0 263.3,546.8 261.2,548.3 C259.1,549.8 254.4,550.7 253.5,552.2 C252.6,553.7 255.1,557.7 254.8,559.9 C254.5,562.1 251.4,567.8 250.9,569.0 M201.4,539.3 C202.8,539.6 210.1,540.7 212.2,541.9 C214.3,543.1 216.5,546.6 217.4,548.3 C218.3,550.0 217.6,553.6 218.6,554.8 C219.6,556.0 223.4,556.2 225.1,557.4 C226.8,558.6 229.4,562.8 231.5,563.8 C233.6,564.8 238.0,564.4 240.6,565.1 C243.2,565.8 249.5,568.5 250.9,569.0 M250.9,569.0 C251.6,569.5 255.5,570.9 256.0,572.8 C256.5,574.7 254.3,580.7 254.8,583.1 C255.3,585.5 258.5,589.0 259.9,590.9 C261.3,592.8 264.8,595.2 265.1,597.3 C265.4,599.4 264.2,604.7 262.5,606.4 C260.8,608.1 254.4,609.2 252.2,610.2 C250.0,611.2 246.7,612.6 245.7,614.1 C244.7,615.6 245.4,620.3 244.4,621.8 C243.4,623.3 239.9,624.5 238.0,625.7 C236.1,626.9 231.9,629.5 230.2,630.9 C228.5,632.3 225.8,635.3 225.1,636.0 M265.1,597.3 C265.8,595.8 267.6,587.6 270.2,585.7 C272.8,583.8 280.8,584.1 284.4,583.1 C288.0,582.1 293.9,578.7 297.3,578.0 C300.7,577.3 308.0,577.0 310.2,578.0 C312.4,579.0 313.6,584.7 314.1,585.7 M314.1,585.7 C315.6,584.7 322.4,580.4 325.7,578.0 C329.0,575.6 335.5,570.3 338.6,567.7 C341.7,565.1 346.3,560.3 348.9,558.6 C351.5,556.9 355.5,555.4 358.1,555.1 C360.7,554.8 367.0,556.2 368.4,556.4 M314.1,585.7 C313.8,587.1 312.2,593.2 311.5,596.0 C310.8,598.8 309.2,603.3 308.9,606.4 C308.6,609.5 309.7,616.0 309.2,619.3 C308.7,622.6 305.8,626.7 305.1,631.0 C304.4,635.3 304.0,645.4 303.8,651.6 C303.6,657.8 303.8,670.5 303.8,677.4 C303.8,684.3 303.5,698.0 303.8,703.2 C304.1,708.4 305.5,712.7 306.3,716.1 C307.1,719.5 309.2,726.8 309.7,728.5 M225.1,636.0 C224.2,635.8 220.3,635.0 218.6,634.8 C216.9,634.6 213.8,634.5 212.2,634.8 C210.6,635.1 207.4,636.4 206.5,637.4 C205.6,638.4 206.4,641.4 205.7,642.6 C205.0,643.8 202.1,645.0 201.4,646.4 C200.7,647.8 200.2,651.4 200.6,652.9 C201.0,654.4 204.5,656.8 204.5,658.0 C204.5,659.2 202.7,661.2 200.6,661.9 C198.5,662.6 192.6,662.7 189.0,663.2 C185.4,663.7 177.1,665.2 173.5,665.8 C169.9,666.4 163.8,666.7 161.9,667.6 C160.0,668.5 160.3,670.9 159.3,672.2 C158.3,673.5 155.0,675.3 154.2,677.4 C153.4,679.5 153.7,684.8 153.4,687.7 C153.1,690.6 152.4,697.8 152.3,699.3 M116.2,665.8 C116.4,667.0 117.1,672.7 118.0,674.8 C118.9,676.9 121.8,680.1 123.2,681.3 C124.6,682.5 127.4,682.6 128.4,683.8 C129.4,685.0 129.7,688.9 130.9,690.3 C132.1,691.7 135.5,693.2 137.4,694.2 C139.3,695.2 143.1,697.3 145.1,698.0 C147.1,698.7 151.3,699.1 152.3,699.3 M152.3,699.3 C153.1,700.0 156.7,703.3 158.0,704.5 C159.3,705.7 160.9,707.4 161.9,708.3 C162.9,709.2 164.8,709.5 165.8,710.9 C166.8,712.3 168.4,717.3 169.6,718.7 C170.8,720.1 173.4,721.0 174.8,721.2 C176.2,721.4 179.0,719.2 179.9,719.9 C180.8,720.6 180.7,724.7 181.2,726.4 C181.7,728.1 182.3,731.8 183.3,732.8 C184.3,733.8 187.6,733.8 189.0,734.1 C190.4,734.4 192.7,734.4 194.1,735.4 C195.5,736.4 198.1,740.0 199.3,741.9 C200.5,743.8 202.2,747.5 203.2,749.6 C204.2,751.7 206.4,755.0 207.0,757.4 C207.6,759.8 207.2,765.2 207.5,767.7 C207.8,770.2 208.9,775.1 209.1,776.2 M224.6,638.2 C225.0,640.0 227.0,648.4 227.7,651.6 C228.4,654.8 230.2,659.3 230.2,661.9 C230.2,664.5 227.0,669.4 227.7,670.9 C228.4,672.4 234.7,672.6 235.4,673.5 C236.1,674.4 233.7,676.7 232.8,677.4 C231.9,678.1 228.5,678.0 229.0,678.7 C229.5,679.4 235.5,681.5 236.7,682.5 C237.9,683.5 237.0,685.7 238.0,686.4 C239.0,687.1 243.4,686.7 244.4,687.7 C245.4,688.7 245.0,693.2 245.7,694.2 C246.4,695.2 249.1,694.5 249.6,695.4 C250.1,696.3 248.7,700.3 249.6,700.6 C250.5,700.9 254.1,697.7 256.0,698.0 C257.9,698.3 262.1,701.5 263.8,703.2 C265.5,704.9 268.1,709.2 268.9,710.9 C269.7,712.6 269.4,715.4 269.5,716.1 M399.3,468.7 C398.3,469.6 393.1,473.7 391.6,475.1 C390.1,476.5 388.2,477.6 387.7,479.0 C387.2,480.4 388.4,483.5 387.7,485.4 C387.0,487.3 383.8,490.4 382.6,493.2 C381.4,496.0 380.1,502.7 378.7,506.1 C377.3,509.5 373.2,515.2 372.2,519.0 C371.2,522.8 371.0,531.1 371.0,534.5 C371.0,537.9 372.5,541.9 372.2,544.8 C371.9,547.7 368.9,554.9 368.4,556.4 M368.4,556.4 C368.7,557.9 369.6,565.1 371.0,568.0 C372.4,570.9 376.5,575.9 378.7,578.3 C380.9,580.7 386.3,583.3 387.7,586.0 C389.1,588.7 389.3,595.8 389.0,598.9 C388.7,602.0 385.1,606.5 385.1,609.3 C385.1,612.1 386.9,617.4 389.0,619.6 C391.1,621.8 399.1,625.1 400.6,626.0 M400.6,626.0 C402.5,625.9 410.8,625.6 414.8,625.3 C418.8,625.0 425.8,623.5 430.3,623.4 C434.8,623.3 445.2,625.2 448.3,624.7 C451.4,624.2 452.0,620.1 453.5,619.6 C455.0,619.1 458.5,619.2 459.9,620.9 C461.3,622.6 463.3,630.1 463.8,632.5 C464.3,634.9 462.8,637.4 463.8,638.9 C464.8,640.4 469.2,643.8 471.6,644.1 C474.0,644.4 479.4,642.7 481.9,641.5 C484.4,640.3 489.3,636.0 490.4,635.1 M488.3,485.4 C488.4,486.8 489.8,493.7 489.1,495.8 C488.4,497.9 484.0,499.2 483.2,500.9 C482.4,502.6 482.3,506.6 483.2,508.7 C484.1,510.8 488.4,513.7 489.6,516.4 C490.8,519.1 491.5,526.2 492.2,529.3 C492.9,532.4 494.1,536.9 494.8,539.6 C495.5,542.3 497.6,547.2 497.4,549.9 C497.2,552.6 494.0,557.4 493.5,560.2 C493.0,563.0 492.6,567.8 493.5,570.6 C494.4,573.4 498.5,578.2 499.9,580.9 C501.3,583.6 503.1,588.8 503.8,591.2 C504.5,593.6 505.4,596.2 505.1,598.9 C504.8,601.6 502.9,608.7 501.2,611.8 C499.5,614.9 493.6,619.1 492.2,622.2 C490.8,625.3 490.6,633.4 490.4,635.1 M399.6,627.1 C399.1,628.0 396.1,631.4 395.8,633.5 C395.5,635.6 397.4,640.2 397.1,642.6 C396.8,645.0 393.0,649.0 393.2,651.6 C393.4,654.2 397.5,658.8 398.4,661.9 C399.3,665.0 400.1,672.2 399.6,674.8 C399.1,677.4 396.4,680.8 394.5,681.3 C392.6,681.8 387.7,678.5 385.5,678.7 C383.3,678.9 379.4,681.1 377.7,682.5 C376.0,683.9 373.5,686.6 372.6,689.0 C371.7,691.4 371.5,697.3 371.3,700.6 C371.1,703.9 370.7,710.2 370.8,713.5 C370.9,716.8 371.7,723.6 371.8,725.1 M491.2,638.7 C491.5,640.4 493.6,648.2 493.8,651.6 C494.0,655.0 492.0,661.6 492.5,664.5 C493.0,667.4 496.4,671.4 497.7,673.5 C499.0,675.6 501.7,679.1 502.3,680.0 M502.3,680.0 C503.4,679.8 508.5,679.6 510.6,678.7 C512.7,677.8 516.2,674.5 518.3,673.5 C520.4,672.5 523.6,670.7 526.0,670.9 C528.4,671.1 534.3,674.1 536.4,674.8 C538.5,675.5 540.5,677.0 541.5,676.1 C542.5,675.2 542.4,669.9 544.1,668.4 C545.8,666.9 551.7,665.4 554.4,664.5 C557.1,663.6 562.3,663.1 564.7,661.9 C567.1,660.7 570.6,657.4 572.5,655.5 C574.4,653.6 577.7,650.3 578.9,647.7 C580.1,645.1 580.6,639.2 581.5,636.1 C582.4,633.0 583.9,626.7 585.4,624.5 C586.9,622.3 590.7,620.2 593.1,619.3 C595.5,618.4 600.7,618.6 603.4,618.1 C606.1,617.6 611.3,616.9 613.7,615.5 C616.1,614.1 619.9,609.8 621.5,607.7 C623.1,605.6 624.4,602.1 625.4,600.0 C626.4,597.9 627.7,593.2 629.0,591.6 C630.3,590.0 634.6,588.2 635.5,587.7 M502.3,680.0 C502.2,681.0 502.1,685.8 501.5,687.7 C500.9,689.6 497.9,692.1 497.7,694.2 C497.5,696.3 499.5,701.0 500.2,703.2 C500.9,705.4 501.8,709.2 502.8,710.9 C503.8,712.6 506.8,714.4 508.0,716.1 C509.2,717.8 510.9,722.3 511.9,723.8 C512.9,725.3 515.0,726.0 515.7,727.7 C516.4,729.4 516.3,734.5 517.0,736.7 C517.7,738.9 520.6,742.8 520.9,744.5 C521.2,746.2 519.8,748.5 519.6,749.1 M455.1,780.6 C455.8,780.1 459.1,778.1 460.3,776.7 C461.5,775.3 462.9,770.9 464.1,770.2 C465.3,769.5 467.6,770.8 469.3,771.5 C471.0,772.2 474.6,774.9 477.0,775.4 C479.4,775.9 485.0,775.7 487.4,775.4 C489.8,775.1 493.2,773.8 495.1,772.8 C497.0,771.8 499.8,768.6 501.5,767.7 C503.2,766.8 507.1,766.6 508.0,766.4 M536.4,770.8 C535.9,771.8 532.8,776.0 532.5,778.0 C532.2,780.0 532.9,783.6 533.8,785.7 C534.7,787.8 538.0,791.1 538.9,793.5 C539.8,795.9 539.7,801.2 540.2,803.8 C540.7,806.4 541.6,811.1 542.8,812.8 C544.0,814.5 547.1,816.2 549.3,816.7 C551.5,817.2 557.5,816.2 559.6,816.7 C561.7,817.2 563.7,818.9 564.7,820.6 C565.7,822.3 567.0,827.0 567.3,829.6 C567.6,832.2 566.6,837.5 567.3,839.9 C568.0,842.3 570.3,846.1 572.5,847.6 C574.7,849.1 582.4,850.1 584.1,851.5 C585.8,852.9 584.4,856.5 585.4,858.0 C586.4,859.5 590.8,861.4 591.8,863.1 C592.8,864.8 593.6,869.2 593.1,870.9 C592.6,872.6 589.9,875.3 588.0,876.0 C586.1,876.7 579.5,874.8 578.8,876.1 C578.1,877.4 582.1,883.4 583.0,885.8 C583.9,888.2 585.2,891.6 585.7,894.0 C586.2,896.4 586.9,902.4 587.1,903.7 M551.5,494.5 C551.5,497.8 550.8,514.7 551.5,519.0 C552.2,523.3 555.5,525.0 556.7,526.7 C557.9,528.4 559.9,530.2 560.6,531.9 C561.3,533.6 560.9,538.2 561.8,539.6 C562.7,541.0 564.9,541.7 567.0,542.2 C569.1,542.7 574.9,541.8 577.3,543.5 C579.7,545.2 583.7,552.9 585.1,555.1 C586.5,557.3 585.9,559.0 587.6,560.2 C589.3,561.4 595.2,563.6 598.0,564.1 C600.8,564.6 605.7,564.6 608.3,564.1 C610.9,563.6 615.4,561.2 617.3,560.2 C619.2,559.2 621.1,556.4 622.5,556.4 C623.9,556.4 626.4,559.0 627.6,560.2 C628.8,561.4 631.2,564.0 631.5,565.4 C631.8,566.8 629.5,569.2 630.2,570.6 C630.9,572.0 635.3,574.3 636.6,575.7 C637.9,577.1 639.5,580.2 640.0,580.9 M640.0,579.6 C641.0,578.9 645.6,574.9 647.7,574.4 C649.8,573.9 652.7,575.5 655.5,575.7 C658.3,575.9 665.3,576.4 668.4,575.7 C671.5,575.0 676.1,572.5 678.7,570.6 C681.3,568.7 686.5,562.7 687.7,561.5 M703.2,399.0 C702.7,401.2 699.1,412.5 699.3,415.8 C699.5,419.1 704.2,421.8 704.5,423.5 C704.8,425.2 702.4,426.8 701.9,428.7 C701.4,430.6 702.0,436.0 700.6,437.7 C699.2,439.4 693.5,440.1 691.6,441.6 C689.7,443.1 686.6,446.9 686.4,449.3 C686.2,451.7 689.6,456.8 690.3,459.6 C691.0,462.4 692.1,466.2 691.6,470.0 C691.1,473.8 686.9,484.2 686.4,488.0 C685.9,491.8 688.2,495.9 687.7,498.3 C687.2,500.7 683.3,504.2 682.6,506.1 C681.9,508.0 681.7,511.0 682.6,512.5 C683.5,514.0 687.5,517.2 689.0,517.7 C690.5,518.2 693.7,514.9 694.2,516.4 C694.7,517.9 693.2,525.5 692.9,529.3 C692.6,533.1 692.1,541.4 691.6,544.8 C691.1,548.2 689.5,552.9 689.0,555.1 C688.5,557.3 687.9,560.6 687.7,561.5 M687.7,561.5 C689.2,561.3 696.0,560.2 699.3,560.2 C702.6,560.2 708.8,560.8 712.2,561.5 C715.6,562.2 722.3,565.4 725.1,565.4 C727.9,565.4 730.5,561.8 732.9,561.5 C735.3,561.2 741.1,563.1 743.2,562.8 C745.3,562.5 746.9,559.5 748.3,559.0 C749.7,558.5 752.6,558.0 753.5,559.0 C754.4,560.0 753.8,564.5 754.8,566.7 C755.8,568.9 760.0,573.5 761.2,575.7 C762.4,577.9 762.9,582.0 763.8,583.5 C764.7,585.0 767.2,586.1 767.7,587.3 C768.2,588.5 766.2,591.6 767.7,592.5 C769.2,593.4 776.0,594.1 779.3,593.8 C782.6,593.5 790.5,590.4 792.2,589.9 M792.2,589.9 C793.9,589.0 802.0,585.4 805.1,583.5 C808.2,581.6 811.8,577.7 815.4,575.7 C819.0,573.7 830.0,569.7 832.2,568.8 M792.2,589.9 C792.2,591.1 792.6,596.7 792.2,598.9 C791.8,601.1 788.4,604.8 789.1,606.7 C789.8,608.6 795.3,611.6 797.4,613.1 C799.5,614.6 803.2,616.8 805.1,618.3 C807.0,619.8 810.1,623.2 811.5,624.7 C812.9,626.2 813.9,629.0 815.4,629.9 C816.9,630.8 821.7,629.7 823.1,631.2 C824.5,632.7 825.5,639.3 825.7,641.5 C825.9,643.7 825.4,646.5 824.4,648.0 C823.4,649.5 819.2,651.4 818.0,653.1 C816.8,654.8 817.1,659.4 815.4,660.9 C813.7,662.4 807.2,663.3 805.1,664.7 C803.0,666.1 800.6,669.7 799.9,671.2 C799.2,672.7 799.9,675.6 799.9,676.3 M640.0,579.6 C639.6,580.1 637.9,582.0 637.3,583.1 C636.7,584.2 635.7,587.1 635.5,587.7 M635.5,587.7 C636.4,589.1 640.2,595.7 641.9,598.1 C643.6,600.5 647.0,603.7 648.4,605.8 C649.8,607.9 651.9,611.6 652.2,613.5 C652.5,615.4 650.4,618.3 650.9,620.0 C651.4,621.7 654.6,624.7 656.1,626.4 C657.6,628.1 660.8,631.2 662.5,632.9 C664.2,634.6 667.6,637.4 669.0,639.3 C670.4,641.2 672.7,645.0 672.9,647.1 C673.1,649.2 670.3,652.6 670.3,654.8 C670.3,657.0 671.9,661.3 672.9,663.8 C673.9,666.3 676.9,672.1 677.5,673.4 M739.9,706.9 C740.9,707.2 745.5,708.0 747.7,709.0 C749.9,710.0 754.8,713.9 756.7,714.1 C758.6,714.3 761.0,712.0 761.9,710.3 C762.8,708.6 762.6,703.4 763.1,701.2 C763.6,699.0 764.5,695.6 765.7,693.5 C766.9,691.4 770.1,687.5 772.2,685.8 C774.3,684.1 778.6,681.6 781.2,680.6 C783.8,679.6 789.1,678.6 791.5,678.0 C793.9,677.4 798.3,676.3 799.3,676.0 M799.3,676.0 C800.7,676.4 807.2,678.2 809.6,679.3 C812.0,680.4 815.4,683.1 817.3,684.5 C819.2,685.9 821.7,688.6 823.8,689.6 C825.9,690.6 830.2,691.9 832.8,692.2 C835.4,692.5 840.7,692.5 843.1,692.2 C845.5,691.9 849.0,689.4 850.9,689.6 C852.8,689.8 855.9,692.1 857.3,693.5 C858.7,694.9 860.0,698.5 861.2,699.9 C862.4,701.3 864.8,702.6 866.3,703.8 C867.8,705.0 871.4,707.3 872.8,709.0 C874.2,710.7 875.7,714.5 876.6,716.7 C877.5,718.9 878.9,724.7 879.8,725.7 C880.7,726.7 882.6,725.6 883.6,724.4 C884.6,723.2 886.1,717.6 887.5,716.7 C888.9,715.8 892.1,717.9 894.0,718.0 C895.9,718.1 900.7,717.6 901.7,717.5 M964.9,661.2 C963.7,661.0 958.1,660.1 955.9,659.9 C953.7,659.7 949.6,659.4 948.1,659.9 C946.6,660.4 944.6,662.6 944.3,663.8 C944.0,665.0 946.4,667.5 945.5,669.0 C944.6,670.5 939.5,673.7 937.8,675.4 C936.1,677.1 933.5,680.0 932.6,681.9 C931.7,683.8 932.4,687.9 931.4,689.6 C930.4,691.3 925.9,693.4 924.9,694.8 C923.9,696.2 924.6,699.0 923.6,699.9 C922.6,700.8 919.1,700.9 917.2,701.2 C915.3,701.5 911.5,702.2 909.4,702.5 C907.3,702.8 902.9,702.9 901.7,703.8 C900.5,704.7 900.4,707.2 900.4,709.0 C900.4,710.8 901.5,716.4 901.7,717.5 M901.7,717.5 C902.2,718.1 904.2,721.3 905.6,721.9 C907.0,722.5 911.5,720.7 912.0,721.9 C912.5,723.1 909.6,728.7 909.4,730.9 C909.2,733.1 909.8,736.5 910.7,738.6 C911.6,740.7 915.2,744.0 915.9,746.4 C916.6,748.8 916.4,754.3 915.9,756.7 C915.4,759.1 913.9,763.0 912.0,764.4 C910.1,765.8 903.6,766.0 901.7,767.0 C899.8,768.0 898.3,770.3 897.8,772.2 C897.3,774.1 897.8,780.0 897.8,781.2 M764.4,826.3 C765.9,826.0 773.1,824.7 776.0,823.8 C778.9,822.9 783.6,820.6 786.4,819.9 C789.2,819.2 794.5,819.3 796.7,818.6 C798.9,817.9 802.1,816.2 803.1,814.7 C804.1,813.2 804.7,809.1 804.4,807.0 C804.1,804.9 800.9,801.2 800.6,799.3 C800.3,797.4 802.3,794.5 801.8,792.8 C801.3,791.1 797.2,788.3 796.7,786.4 C796.2,784.5 797.3,780.5 798.0,778.6 C798.7,776.7 799.9,773.6 801.8,772.2 C803.7,770.8 809.1,769.0 812.2,768.3 C815.3,767.6 821.7,767.4 825.1,767.0 C828.5,766.6 834.9,765.2 838.0,765.2 C841.1,765.2 845.7,766.2 848.3,767.0 C850.9,767.8 855.2,770.6 857.3,770.9 C859.4,771.2 862.3,768.9 863.7,769.6 C865.1,770.3 866.6,774.1 867.6,776.0 C868.6,777.9 870.6,782.4 871.5,783.8 C872.4,785.2 872.5,785.5 874.1,786.4 C875.7,787.3 880.9,790.0 883.6,790.2 C886.3,790.4 892.1,788.8 894.0,787.6 C895.9,786.4 897.3,782.1 897.8,781.2 M897.8,781.2 C898.3,782.4 900.5,788.0 901.7,790.2 C902.9,792.4 905.2,795.6 906.9,798.0 C908.6,800.4 912.5,806.6 914.6,808.3 C916.7,810.0 920.2,809.9 922.3,810.9 C924.4,811.9 928.0,814.8 930.1,816.0 C932.2,817.2 936.9,818.4 937.8,819.9 C938.7,821.4 937.5,826.1 936.5,827.6 C935.5,829.1 931.9,830.8 930.1,831.5 C928.3,832.2 924.3,831.5 923.1,832.9 C921.9,834.3 920.8,840.0 921.3,841.9 C921.8,843.8 925.5,845.6 927.0,847.1 C928.5,848.6 931.0,852.0 932.2,853.5 C933.4,855.0 936.0,856.6 936.0,858.7 C936.0,860.8 932.7,867.6 932.2,869.0 M693.5,781.2 C693.7,782.6 694.5,788.8 694.8,791.5 C695.1,794.2 696.4,799.6 696.1,801.8 C695.8,804.0 692.5,806.6 692.2,808.3 C691.9,810.0 692.8,813.0 693.5,814.7 C694.2,816.4 696.9,820.3 697.4,821.2 M697.4,821.2 C698.9,821.5 705.9,823.5 709.0,823.8 C712.1,824.1 718.5,824.1 720.6,823.8 C722.7,823.5 722.6,821.0 724.5,821.2 C726.4,821.4 732.1,824.4 734.8,825.1 C737.5,825.8 742.4,826.1 745.1,826.3 C747.8,826.5 752.8,826.3 755.4,826.3 C758.0,826.3 763.2,826.3 764.4,826.3 M764.4,826.3 C764.7,827.5 766.1,833.2 767.0,835.4 C767.9,837.6 769.5,842.1 770.9,843.1 C772.3,844.1 775.9,842.1 777.3,843.1 C778.7,844.1 780.3,848.5 781.2,850.9 C782.1,853.3 783.1,858.8 783.8,861.2 C784.5,863.6 784.9,867.2 786.4,868.9 C787.9,870.6 793.7,872.5 795.4,874.2 C797.1,875.9 799.3,880.0 799.3,881.9 C799.3,883.8 796.3,886.8 795.4,888.3 C794.5,889.8 792.4,892.0 792.9,893.5 C793.4,895.0 797.6,897.8 799.3,899.9 C801.0,902.0 803.9,907.1 805.8,909.0 C807.7,910.9 811.8,912.7 813.5,914.1 C815.2,915.5 817.8,917.4 818.7,919.3 C819.6,921.2 819.7,927.1 819.9,928.3 M697.4,821.2 C697.1,821.8 694.9,824.0 695,825.8 C695.1,827.6 698.2,831.0 698.4,834.4 C698.6,837.8 697.8,848.4 696.7,851.6 C695.6,854.8 690.5,856.2 689.8,858.5 C689.1,860.8 692.0,865.8 691.5,868.8 C691.0,871.8 688.9,878.7 686.4,880.8 C683.9,882.9 676.7,883.2 672.6,884.3 C668.5,885.4 659.1,888.3 655.4,889.4 C651.7,890.5 647.6,892.2 645.1,892.9 C642.6,893.6 637.6,894.4 636.5,894.6" fill="none" stroke="#FBDADD" stroke-width="1.5" stroke-linejoin="round" stroke-linecap="round"/>
<path d="M223.8,792.2 C223.1,791.0 224.4,783.9 224.6,780.6 C224.8,777.3 224.4,770.3 225.1,767.7 C225.8,765.1 228.7,762.7 230.2,761.2 C231.7,759.7 235.0,758.0 236.7,756.1 C238.4,754.2 241.2,749.1 243.1,747.0 C245.0,744.9 248.5,741.8 250.9,740.6 C253.3,739.4 259.3,739.5 261.2,738.0 C263.1,736.5 264.4,731.2 265.1,729.0 C265.8,726.8 265.9,722.9 266.4,721.2 C266.9,719.5 267.9,717.0 268.9,716.1 C269.9,715.2 272.9,714.3 274.1,714.8 C275.3,715.3 277.0,719.7 278.0,719.9 C279.0,720.1 280.8,715.9 281.8,716.1 C282.8,716.3 284.7,720.2 285.7,721.2 C286.7,722.2 288.4,723.6 289.6,723.8 C290.8,724.0 293.0,722.2 294.7,722.5 C296.4,722.8 300.4,725.5 302.5,726.4 C304.6,727.3 308.1,728.5 310.2,729.0 C312.3,729.5 316.6,729.6 318.0,730.3 C319.4,731.0 319.6,733.6 320.5,734.1 C321.4,734.6 323.5,734.8 324.4,734.1 C325.3,733.4 325.8,729.9 327.0,729.0 C328.2,728.1 331.2,728.0 333.4,727.7 C335.6,727.4 340.9,726.9 343.7,726.4 C346.5,725.9 351.9,724.2 354.1,723.8 C356.3,723.4 358.4,723.0 360.0,723.3 C361.6,723.6 364.4,725.7 366.1,725.9 C367.8,726.1 371.4,724.7 372.6,725.1 C373.8,725.5 374.8,726.9 375.1,729.0 C375.4,731.1 376.0,739.2 375.1,740.6 C374.2,742.0 370.9,739.3 368.7,739.3 C366.5,739.3 361.0,740.4 358.4,740.6 C355.8,740.8 351.5,740.3 348.9,740.6 C346.3,740.9 341.0,742.5 338.6,743.2 C336.2,743.9 332.3,744.7 330.9,745.7 C329.5,746.7 330.0,749.7 328.3,750.9 C326.6,752.1 320.2,754.1 318.0,754.8 C315.8,755.5 313.2,755.2 311.5,756.1 C309.8,757.0 306.5,759.5 305.1,761.2 C303.7,762.9 302.2,767.3 301.2,769.0 C300.2,770.7 299.5,773.3 297.3,774.1 C295.1,774.9 287.8,774.7 284.4,774.9 C281.0,775.1 274.9,775.2 271.5,775.4 C268.1,775.6 261.7,776.4 258.6,776.7 C255.5,777.0 250.7,777.5 248.3,778.0 C245.9,778.5 242.1,779.6 240.6,780.6 C239.1,781.6 238.1,784.5 236.7,785.7 C235.3,786.9 231.9,788.7 230.2,789.6 C228.5,790.5 224.5,793.4 223.8,792.2Z" fill="none" stroke="#FBDADD" stroke-width="1.5" stroke-linejoin="round"/>
<path d="M519.6,749.1 C522.0,748.2 526.0,744.5 528.6,743.2 C531.2,741.9 536.1,740.5 538.9,739.3 C541.7,738.1 547.2,736.2 549.3,734.1 C551.4,732.0 553.0,725.7 554.4,723.8 C555.8,721.9 557.2,720.4 559.6,719.9 C562.0,719.4 569.1,719.7 572.5,719.9 C575.9,720.1 582.0,721.5 585.4,721.2 C588.8,720.9 595.7,718.8 598.3,717.4 C600.9,716.0 603.2,712.6 604.7,710.9 C606.2,709.2 608.0,705.5 609.9,704.5 C611.8,703.5 616.7,702.9 618.9,703.2 C621.1,703.5 624.7,706.3 626.4,706.4 C628.1,706.5 630.2,704.3 631.6,703.8 C633.0,703.3 635.3,703.4 636.7,702.5 C638.1,701.6 640.3,698.9 641.9,697.4 C643.5,695.9 646.9,691.9 648.4,690.9 C649.9,689.9 652.3,689.3 653.5,689.6 C654.7,689.9 656.2,692.3 657.4,693.5 C658.6,694.7 660.8,698.2 662.5,698.7 C664.2,699.2 668.4,697.9 670.3,697.4 C672.2,696.9 675.7,696.0 676.7,694.8 C677.7,693.6 678.2,690.4 678.0,688.3 C677.8,686.2 675.5,681.3 675.4,679.3 C675.3,677.3 676.5,673.7 677.5,673.4 C678.5,673.1 681.4,675.6 683.2,676.7 C685.0,677.8 689.2,680.7 690.9,681.9 C692.6,683.1 694.7,684.8 696.1,685.8 C697.5,686.8 699.8,688.6 701.2,689.6 C702.6,690.6 705.4,692.5 706.4,693.5 C707.4,694.5 707.6,696.4 709.0,697.4 C710.4,698.4 714.3,700.5 716.7,701.2 C719.1,701.9 724.6,702.2 727.0,702.5 C729.4,702.8 733.1,703.2 734.8,703.8 C736.5,704.4 739.7,706.0 739.9,706.9 C740.1,707.8 737.6,709.5 736.1,710.3 C734.6,711.1 730.2,712.3 728.3,712.8 C726.4,713.3 722.8,713.4 721.9,714.1 C721.0,714.8 720.7,717.3 721.4,718.0 C722.1,718.7 725.4,719.0 727.0,719.3 C728.6,719.6 732.5,720.1 733.5,720.6 C734.5,721.1 735.3,722.3 734.8,723.2 C734.3,724.1 731.0,726.0 729.6,727.0 C728.2,728.0 725.7,729.9 724.5,730.9 C723.3,731.9 721.6,733.3 720.6,734.8 C719.6,736.3 717.4,740.4 716.7,742.5 C716.0,744.6 715.2,748.1 715.4,750.2 C715.6,752.3 717.8,756.1 718.0,758.0 C718.2,759.9 717.6,763.0 716.7,764.4 C715.8,765.8 713.0,767.3 711.6,768.3 C710.2,769.3 707.8,771.2 706.4,772.2 C705.0,773.2 702.9,774.8 701.2,776.0 C699.5,777.2 695.6,780.2 693.5,781.2 C691.4,782.2 687.5,783.1 685.8,783.8 C684.1,784.5 682.1,785.5 680.6,786.4 C679.1,787.3 675.4,788.7 674.2,790.2 C673.0,791.7 672.8,796.6 671.6,798.0 C670.4,799.4 667.0,800.3 665.1,800.6 C663.2,800.9 659.5,800.8 657.4,800.6 C655.3,800.4 651.1,799.0 649.6,799.3 C648.1,799.6 646.8,802.1 645.8,803.1 C644.8,804.1 642.9,807.0 641.9,807.0 C640.9,807.0 639.4,803.8 638.0,803.1 C636.6,802.4 633.1,802.4 631.6,801.8 C630.1,801.2 627.4,800.1 626.6,798.6 C625.8,797.1 626.3,793.0 625.4,790.9 C624.5,788.8 621.4,785.0 620.2,783.1 C619.0,781.2 618.2,777.4 616.3,776.7 C614.4,776.0 608.7,778.3 606.0,778.0 C603.3,777.7 598.1,775.3 595.7,774.1 C593.3,772.9 590.1,770.0 588.0,769.0 C585.9,768.0 582.3,766.6 580.2,766.4 C578.1,766.2 574.9,767.0 572.5,767.7 C570.1,768.4 565.3,771.2 562.2,771.5 C559.1,771.8 552.7,770.4 549.3,770.2 C545.9,770.0 539.8,770.5 536.4,770.2 C533.0,769.9 526.3,768.4 523.5,767.7 C520.7,767.0 517.8,765.3 515.7,765.1 C513.6,764.9 509.5,766.9 508.0,766.4 C506.5,765.9 504.4,762.7 504.1,761.2 C503.8,759.7 504.5,756.3 505.4,754.8 C506.3,753.3 508.7,750.4 510.6,749.6 C512.5,748.8 517.2,750.0 519.6,749.1Z" fill="none" stroke="#FBDADD" stroke-width="1.5" stroke-linejoin="round"/>
<path d="M1041.0,769.1 C1041.0,767.8 1041.9,761.0 1041.0,759.3 C1040.1,757.6 1036.2,757.2 1034.5,756.7 C1032.8,756.2 1029.6,756.4 1028.1,755.4 C1026.6,754.4 1024.6,750.4 1022.9,748.9 C1021.2,747.4 1016.9,745.3 1015.2,743.8 C1013.5,742.3 1011.5,739.2 1010.0,737.3 C1008.5,735.4 1005.7,731.8 1003.6,729.6 C1001.5,727.4 996.3,723.2 994.6,720.6 C992.9,718.0 991.7,712.6 990.7,710.2 C989.7,707.8 987.0,704.9 986.8,702.5 C986.6,700.1 989.7,694.4 989.4,692.2 C989.1,690.0 985.9,687.2 984.2,685.7 C982.5,684.2 977.9,682.3 976.5,680.6 C975.1,678.9 974.4,674.7 973.9,672.8 C973.4,670.9 973.6,667.8 972.6,666.4 C971.6,665.0 967.2,663.2 966.2,662.5 C965.2,661.8 965.4,663.1 964.9,661.2 C964.4,659.3 962.5,651.4 962.3,648.3 C962.1,645.2 963.6,640.7 963.6,638.0 C963.6,635.3 962.0,630.4 962.3,627.7 C962.6,625.0 965.9,620.1 966.2,617.4 C966.5,614.7 964.9,609.7 964.9,607.1 C964.9,604.5 966.0,599.2 966.2,598.0" fill="none" stroke="#FBDADD" stroke-width="1.5" stroke-linejoin="round"/>
<circle cx="543.1" cy="576.7" r="16.4" fill="#D00000" stroke="#F5AAB0" stroke-width="1.3"/>
<path d="M509.7,466 L509.7,559.7 L542.5,576.2" fill="none" stroke="#222" stroke-width="1.3"/>
</svg>
<svg class="map" style="left:60px;top:125px" width="60" height="60" viewBox="0 0 60 60"><g fill="none" stroke="#D00000" stroke-width="8.6" stroke-linecap="butt"><path d="M17.4,29.9 C17.4,22 20,20.5 23.5,20.5 C28,20.5 32,26.3 37,26.3 C41,26.3 43.5,24 43.5,17.2"/><path d="M17.4,47.1 C17.4,39.2 20,37.7 23.5,37.7 C28,37.7 32,43.5 37,43.5 C41,43.5 43.5,41.2 43.5,34.4"/></g></svg>
<div class="abs" style="left:71.3px;top:64.15px;line-height:1;transform-origin:0 0;transform:scaleX(1.1029);color:#000;font-size:58px;font-weight:bold;letter-spacing:4px;-webkit-text-stroke:4.5px #000;">СЕРЕДНЯ</div>
<div class="abs" style="left:436.33px;top:64.15px;line-height:1;transform-origin:0 0;transform:scaleX(1.1669);color:#000;font-size:58px;font-weight:bold;letter-spacing:4px;-webkit-text-stroke:4.5px #000;">ЗАРПЛАТА</div>
<div class="abs" style="left:131.63px;top:128.45px;line-height:1;transform-origin:0 0;transform:scaleX(1.1299);color:#D00000;font-size:58px;font-weight:bold;letter-spacing:4px;-webkit-text-stroke:4.5px #D00000;">26,5</div>
<div class="abs" style="left:299.31px;top:128.45px;line-height:1;transform-origin:0 0;transform:scaleX(1.1054);color:#D00000;font-size:58px;font-weight:bold;letter-spacing:4px;-webkit-text-stroke:4.5px #D00000;">ТИС.</div>
<div class="abs" style="left:485.08px;top:128.45px;line-height:1;transform-origin:0 0;transform:scaleX(1.121);color:#D00000;font-size:58px;font-weight:bold;letter-spacing:4px;-webkit-text-stroke:4.5px #D00000;">ГРН</div>
<div class="abs" style="left:72.0px;top:223.54px;line-height:1;transform-origin:0 0;transform:scaleX(1.0862);color:#000;font-size:23.4px;font-weight:bold;letter-spacing:0.9px;-webkit-text-stroke:0.3px #000;">Середня заробітна плата штатних працівників за регіонами у липні 2025,</div>
<div class="abs" style="left:70.5px;top:248.44px;line-height:1;transform-origin:0 0;transform:scaleX(1.092);color:#000;font-size:23.4px;font-weight:bold;letter-spacing:0.9px;-webkit-text-stroke:0.3px #000;">у розрахунку на одного штатного працівника, тис. грн</div>
<div class="abs" style="left:213.07px;top:482.31px;line-height:1;transform-origin:0 0;transform:scaleX(1.071);color:#fff;font-size:27.4px;font-weight:bold;letter-spacing:2.2px;-webkit-text-stroke:2.8px #fff;">22,3</div>
<div class="abs" style="left:307.64px;top:504.61px;line-height:1;transform-origin:0 0;transform:scaleX(1.0387);color:#fff;font-size:27.4px;font-weight:bold;letter-spacing:2.2px;-webkit-text-stroke:2.8px #fff;">22,7</div>
<div class="abs" style="left:403.98px;top:538.01px;line-height:1;transform-origin:0 0;transform:scaleX(0.9839);color:#fff;font-size:27.4px;font-weight:bold;letter-spacing:2.2px;-webkit-text-stroke:2.8px #fff;">21,6</div>
<div class="abs" style="left:587.33px;top:477.91px;line-height:1;transform-origin:0 0;transform:scaleX(1.1323);color:#fff;font-size:27.4px;font-weight:bold;letter-spacing:2.2px;-webkit-text-stroke:2.8px #fff;">20,0</div>
<div class="abs" style="left:721.28px;top:512.31px;line-height:1;transform-origin:0 0;transform:scaleX(0.9823);color:#fff;font-size:27.4px;font-weight:bold;letter-spacing:2.2px;-webkit-text-stroke:2.8px #fff;">21,9</div>
<div class="abs" style="left:144.74px;top:599.01px;line-height:1;transform-origin:0 0;transform:scaleX(1.1371);color:#fff;font-size:27.4px;font-weight:bold;letter-spacing:2.2px;-webkit-text-stroke:2.8px #fff;">24,2</div>
<div class="abs" style="left:232.41px;top:632.71px;line-height:1;transform-origin:0 0;transform:scaleX(1.1097);color:#fff;font-size:27.4px;font-weight:bold;letter-spacing:2.2px;-webkit-text-stroke:2.8px #fff;">20,0</div>
<div class="abs" style="left:321.8px;top:632.71px;line-height:1;transform-origin:0 0;transform:scaleX(0.9984);color:#fff;font-size:27.4px;font-weight:bold;letter-spacing:2.2px;-webkit-text-stroke:2.8px #fff;">21,6</div>
<div class="abs" style="left:180.67px;top:690.81px;line-height:1;transform-origin:0 0;transform:scaleX(0.971);color:#fff;font-size:27.4px;font-weight:bold;letter-spacing:2.2px;-webkit-text-stroke:2.8px #fff;">21,3</div>
<div class="abs" style="left:96.58px;top:708.01px;line-height:1;transform-origin:0 0;transform:scaleX(1.0806);color:#fff;font-size:27.4px;font-weight:bold;letter-spacing:2.2px;-webkit-text-stroke:2.8px #fff;">22,5</div>
<div class="abs" style="left:412.95px;top:686.01px;line-height:1;transform-origin:0 0;transform:scaleX(1.0532);color:#fff;font-size:27.4px;font-weight:bold;letter-spacing:2.2px;-webkit-text-stroke:2.8px #fff;">22,7</div>
<div class="abs" style="left:510.31px;top:610.01px;line-height:1;transform-origin:0 0;transform:scaleX(1.1097);color:#fff;font-size:27.4px;font-weight:bold;letter-spacing:2.2px;-webkit-text-stroke:2.8px #fff;">26,6</div>
<div class="abs" style="left:567.0px;top:669.51px;line-height:1;transform-origin:0 0;transform:scaleX(0.9984);color:#fff;font-size:27.4px;font-weight:bold;letter-spacing:2.2px;-webkit-text-stroke:2.8px #fff;">21,6</div>
<div class="abs" style="left:704.68px;top:618.61px;line-height:1;transform-origin:0 0;transform:scaleX(1.0806);color:#fff;font-size:27.4px;font-weight:bold;letter-spacing:2.2px;-webkit-text-stroke:2.8px #fff;">23,0</div>
<div class="abs" style="left:856.99px;top:618.61px;line-height:1;transform-origin:0 0;transform:scaleX(1.0919);color:#fff;font-size:27.4px;font-weight:bold;letter-spacing:2.2px;-webkit-text-stroke:2.8px #fff;">22,0</div>
<div class="abs" style="left:996.34px;top:665.31px;line-height:1;transform-origin:0 0;transform:scaleX(1.1371);color:#fff;font-size:27.4px;font-weight:bold;letter-spacing:2.2px;-webkit-text-stroke:2.8px #fff;">34,6</div>
<div class="abs" style="left:242.4px;top:741.71px;line-height:1;transform-origin:0 0;transform:scaleX(0.9754);color:#fff;font-size:27.4px;font-weight:bold;letter-spacing:2.2px;-webkit-text-stroke:2.8px #fff;">19,2</div>
<div class="abs" style="left:603.8px;top:731.41px;line-height:1;transform-origin:0 0;transform:scaleX(0.959);color:#fff;font-size:27.4px;font-weight:bold;letter-spacing:2.2px;-webkit-text-stroke:2.8px #fff;">19,5</div>
<div class="abs" style="left:761.39px;top:726.61px;line-height:1;transform-origin:0 0;transform:scaleX(1.0921);color:#fff;font-size:27.4px;font-weight:bold;letter-spacing:2.2px;-webkit-text-stroke:2.8px #fff;">27,4</div>
<div class="abs" style="left:601.46px;top:826.01px;line-height:1;transform-origin:0 0;transform:scaleX(1.0645);color:#fff;font-size:27.4px;font-weight:bold;letter-spacing:2.2px;-webkit-text-stroke:2.8px #fff;">23,6</div>
<div class="abs" style="left:507.8px;top:850.91px;line-height:1;transform-origin:0 0;transform:scaleX(1.0048);color:#fff;font-size:27.4px;font-weight:bold;letter-spacing:2.2px;-webkit-text-stroke:2.8px #fff;">21,4</div>
<div class="abs" style="left:707.11px;top:880.51px;line-height:1;transform-origin:0 0;transform:scaleX(1.1079);color:#fff;font-size:27.4px;font-weight:bold;letter-spacing:2.2px;-webkit-text-stroke:2.8px #fff;">23,4</div>
<div class="abs" style="left:932.67px;top:749.01px;line-height:1;transform-origin:0 0;transform:scaleX(1.1746);color:#fff;font-size:27.4px;font-weight:bold;letter-spacing:2.2px;-webkit-text-stroke:2.8px #fff;">24,4</div>
<div class="abs" style="left:822.62px;top:827.01px;line-height:1;transform-origin:0 0;transform:scaleX(1.1194);color:#fff;font-size:27.4px;font-weight:bold;letter-spacing:2.2px;-webkit-text-stroke:2.8px #fff;">24,7</div>
<div class="abs" style="left:472.72px;top:432.61px;line-height:1;transform-origin:0 0;transform:scaleX(1.2206);color:#000;font-size:27.4px;font-weight:bold;letter-spacing:2.2px;-webkit-text-stroke:2.8px #000;">40,4</div>
<div class="abs" style="left:741.43px;top:1005.72px;line-height:1;transform-origin:0 0;transform:scaleX(1.2733);color:#fff;font-size:28.5px;font-weight:bold;letter-spacing:1px;-webkit-text-stroke:1.9px #fff;">н/д</div>
<div class="abs" style="left:70.0px;top:1146.94px;line-height:1;transform-origin:0 0;transform:scaleX(1.131);color:#B2B2B2;font-size:14.6px;">Джерело: Державна служба статистики України.</div>
<div class="abs" style="left:134.2px;top:1185.19px;line-height:1;transform-origin:0 0;transform:scaleX(0.9779);color:#1d1d1d;font-size:41px;letter-spacing:0.3px;">t.me/uawarinfographics</div>
<div class="abs" style="left:127.66px;top:341.97px;line-height:1;transform-origin:0 0;transform:scaleX(1.1429);color:#222;font-size:20px;letter-spacing:0.6px;">20</div>
<div class="abs" style="left:198.56px;top:341.97px;line-height:1;transform-origin:0 0;transform:scaleX(1.1429);color:#222;font-size:20px;letter-spacing:0.6px;">30</div>
<div class="abs" style="left:270.7px;top:341.97px;line-height:1;transform-origin:0 0;transform:scaleX(1.0909);color:#222;font-size:20px;letter-spacing:0.6px;">40</div>
<div class="abs" style="left:1038.7px;top:77.7px;line-height:1;transform-origin:0 0;transform:scaleX(0.9622);color:#111;font-size:21.5px;letter-spacing:1px;">TOP</div>
<div class="abs" style="left:1037.74px;top:109.58px;line-height:1;transform-origin:0 0;transform:scaleX(0.9622);color:#111;font-size:16.8px;letter-spacing:0.8px;">LEAD</div>
<svg class="map" style="left:70px;top:1183.5px" width="48" height="48" viewBox="0 0 48 48"><circle cx="24" cy="24" r="23.7" fill="#000"/><path d="M35.6,13.4 L8.2,24 Q7.2,24.6 8.2,25.2 L15.3,28.1 L28.8,19.2 L19.7,29.4 L29.5,36.9 Q31.8,38.2 32.8,36.2 Z" fill="#fff"/></svg>
</body></html>
